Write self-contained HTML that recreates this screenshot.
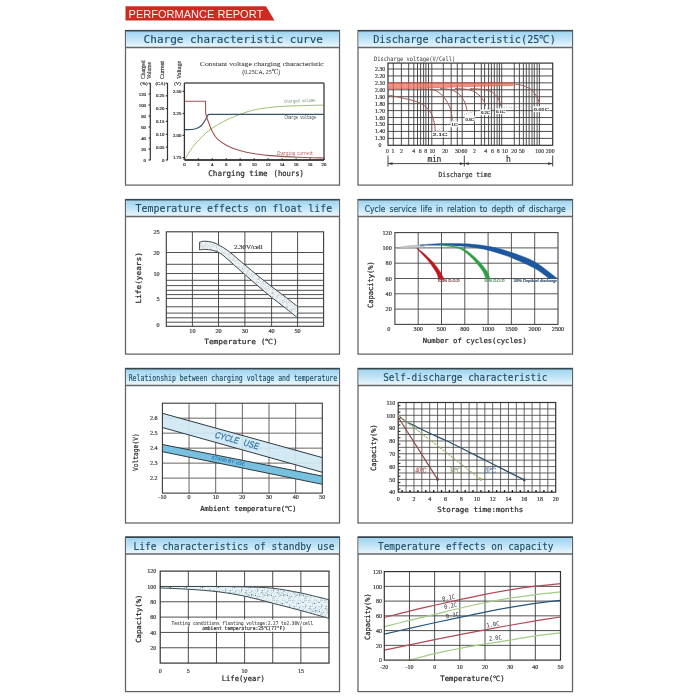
<!DOCTYPE html><html><head><meta charset="utf-8"><title>Performance Report</title>
<style>html,body{margin:0;padding:0;background:#fff;width:700px;height:700px;overflow:hidden}svg{display:block}</style></head><body>
<svg width="700" height="700" viewBox="0 0 700 700">
<defs>
<linearGradient id="hdr" x1="0" y1="0" x2="0" y2="1"><stop offset="0" stop-color="#9fd3ef"/><stop offset="0.55" stop-color="#c6e6f7"/><stop offset="1" stop-color="#eef8fd"/></linearGradient>
<pattern id="dots" width="14" height="14" patternUnits="userSpaceOnUse"><rect width="14" height="14" fill="#edf2f4"/><circle cx="4.5" cy="2.1" r="0.46" fill="#aab8c0"/><circle cx="11.5" cy="1.3" r="0.45" fill="#c0cbd0"/><circle cx="0.5" cy="6.1" r="0.32" fill="#aab8c0"/><circle cx="7.7" cy="0.8" r="0.44" fill="#c0cbd0"/><circle cx="8.8" cy="8.2" r="0.32" fill="#b8c4ca"/><circle cx="0.7" cy="3.1" r="0.44" fill="#c0cbd0"/><circle cx="4.1" cy="2.0" r="0.33" fill="#98a8b2"/><circle cx="7.8" cy="9.5" r="0.33" fill="#c0cbd0"/><circle cx="5.2" cy="7.7" r="0.32" fill="#aab8c0"/><circle cx="8.7" cy="6.9" r="0.43" fill="#98a8b2"/><circle cx="6.5" cy="12.9" r="0.39" fill="#c0cbd0"/><circle cx="11.1" cy="9.8" r="0.36" fill="#98a8b2"/><circle cx="7.4" cy="12.3" r="0.48" fill="#98a8b2"/><circle cx="8.5" cy="1.0" r="0.43" fill="#c0cbd0"/><circle cx="10.6" cy="2.1" r="0.42" fill="#aab8c0"/><circle cx="13.5" cy="1.1" r="0.44" fill="#98a8b2"/><circle cx="4.8" cy="4.9" r="0.42" fill="#b8c4ca"/><circle cx="1.0" cy="1.3" r="0.37" fill="#aab8c0"/><circle cx="0.8" cy="9.8" r="0.46" fill="#b8c4ca"/><circle cx="4.0" cy="5.4" r="0.47" fill="#aab8c0"/><circle cx="13.2" cy="5.0" r="0.45" fill="#b8c4ca"/><circle cx="0.8" cy="10.8" r="0.33" fill="#c0cbd0"/><circle cx="5.6" cy="12.8" r="0.42" fill="#c0cbd0"/><circle cx="6.3" cy="7.7" r="0.52" fill="#b8c4ca"/><circle cx="12.1" cy="3.9" r="0.40" fill="#98a8b2"/><circle cx="9.6" cy="5.3" r="0.36" fill="#aab8c0"/><circle cx="2.5" cy="3.2" r="0.36" fill="#b8c4ca"/><circle cx="11.6" cy="2.6" r="0.37" fill="#c0cbd0"/><circle cx="5.9" cy="5.2" r="0.44" fill="#c0cbd0"/><circle cx="9.7" cy="7.2" r="0.45" fill="#aab8c0"/><circle cx="6.4" cy="12.2" r="0.54" fill="#b8c4ca"/><circle cx="5.6" cy="5.5" r="0.42" fill="#b8c4ca"/><circle cx="0.9" cy="0.9" r="0.35" fill="#c0cbd0"/><circle cx="1.5" cy="8.4" r="0.33" fill="#c0cbd0"/><circle cx="7.5" cy="13.3" r="0.45" fill="#aab8c0"/><circle cx="12.2" cy="8.6" r="0.34" fill="#98a8b2"/><circle cx="13.4" cy="8.4" r="0.42" fill="#aab8c0"/><circle cx="11.9" cy="13.9" r="0.42" fill="#b8c4ca"/><circle cx="4.4" cy="2.0" r="0.49" fill="#98a8b2"/><circle cx="6.7" cy="9.7" r="0.43" fill="#c0cbd0"/><circle cx="13.3" cy="7.4" r="0.34" fill="#aab8c0"/><circle cx="10.6" cy="4.2" r="0.46" fill="#aab8c0"/><circle cx="9.7" cy="3.7" r="0.39" fill="#c0cbd0"/><circle cx="5.0" cy="3.1" r="0.44" fill="#98a8b2"/><circle cx="8.9" cy="8.6" r="0.50" fill="#c0cbd0"/><circle cx="11.3" cy="11.5" r="0.48" fill="#c0cbd0"/><circle cx="2.8" cy="6.9" r="0.48" fill="#aab8c0"/><circle cx="11.1" cy="6.6" r="0.35" fill="#98a8b2"/><circle cx="6.3" cy="13.1" r="0.55" fill="#98a8b2"/><circle cx="1.1" cy="1.4" r="0.42" fill="#98a8b2"/><circle cx="2.9" cy="8.7" r="0.53" fill="#aab8c0"/><circle cx="6.7" cy="9.1" r="0.50" fill="#aab8c0"/><circle cx="11.7" cy="1.7" r="0.40" fill="#c0cbd0"/><circle cx="6.7" cy="2.5" r="0.50" fill="#98a8b2"/><circle cx="1.2" cy="13.2" r="0.48" fill="#b8c4ca"/><circle cx="5.6" cy="13.3" r="0.48" fill="#c0cbd0"/><circle cx="13.9" cy="0.4" r="0.45" fill="#b8c4ca"/><circle cx="11.3" cy="2.0" r="0.51" fill="#b8c4ca"/><circle cx="9.2" cy="4.9" r="0.44" fill="#c0cbd0"/><circle cx="0.3" cy="11.2" r="0.48" fill="#aab8c0"/><circle cx="7.4" cy="13.1" r="0.41" fill="#c0cbd0"/><circle cx="11.6" cy="3.0" r="0.36" fill="#98a8b2"/><circle cx="7.0" cy="10.7" r="0.38" fill="#b8c4ca"/><circle cx="11.7" cy="0.9" r="0.48" fill="#b8c4ca"/><circle cx="9.3" cy="11.4" r="0.43" fill="#c0cbd0"/><circle cx="7.4" cy="7.3" r="0.30" fill="#b8c4ca"/><circle cx="10.9" cy="8.5" r="0.49" fill="#c0cbd0"/><circle cx="2.4" cy="6.6" r="0.48" fill="#aab8c0"/><circle cx="4.6" cy="7.3" r="0.44" fill="#aab8c0"/><circle cx="12.4" cy="0.8" r="0.35" fill="#aab8c0"/></pattern>
<pattern id="dots2" width="16" height="16" patternUnits="userSpaceOnUse"><rect width="16" height="16" fill="#eaf4f8"/><circle cx="12.4" cy="8.1" r="0.47" fill="#4c7b8c"/><circle cx="7.1" cy="9.8" r="0.45" fill="#a8c0cc"/><circle cx="3.2" cy="4.4" r="0.45" fill="#3a6575"/><circle cx="8.1" cy="4.0" r="0.46" fill="#b0c8d4"/><circle cx="14.8" cy="14.3" r="0.36" fill="#3a6575"/><circle cx="2.2" cy="1.9" r="0.43" fill="#4c7b8c"/><circle cx="10.7" cy="6.9" r="0.36" fill="#b0c8d4"/><circle cx="12.5" cy="14.4" r="0.35" fill="#c0d4de"/><circle cx="10.3" cy="5.9" r="0.38" fill="#8fb0c0"/><circle cx="15.5" cy="3.5" r="0.59" fill="#3a6575"/><circle cx="14.2" cy="2.6" r="0.50" fill="#8fb0c0"/><circle cx="2.6" cy="6.9" r="0.45" fill="#b0c8d4"/><circle cx="6.7" cy="5.7" r="0.33" fill="#b0c8d4"/><circle cx="0.3" cy="8.9" r="0.43" fill="#4c7b8c"/><circle cx="6.1" cy="8.3" r="0.39" fill="#4c7b8c"/><circle cx="1.8" cy="14.7" r="0.37" fill="#4c7b8c"/><circle cx="1.3" cy="4.4" r="0.57" fill="#8fb0c0"/><circle cx="4.3" cy="2.1" r="0.43" fill="#c0d4de"/><circle cx="13.1" cy="4.1" r="0.34" fill="#a8c0cc"/><circle cx="9.1" cy="11.2" r="0.33" fill="#4c7b8c"/><circle cx="12.8" cy="2.9" r="0.57" fill="#b0c8d4"/><circle cx="15.0" cy="10.2" r="0.54" fill="#4c7b8c"/><circle cx="9.7" cy="3.6" r="0.38" fill="#4c7b8c"/><circle cx="7.3" cy="5.4" r="0.47" fill="#b0c8d4"/><circle cx="9.9" cy="0.7" r="0.51" fill="#4c7b8c"/><circle cx="15.5" cy="4.2" r="0.35" fill="#b0c8d4"/><circle cx="10.1" cy="8.5" r="0.36" fill="#3a6575"/><circle cx="8.0" cy="2.8" r="0.40" fill="#4c7b8c"/><circle cx="15.9" cy="0.6" r="0.31" fill="#a8c0cc"/><circle cx="8.8" cy="3.0" r="0.44" fill="#3a6575"/><circle cx="1.7" cy="13.1" r="0.43" fill="#3a6575"/><circle cx="8.7" cy="14.2" r="0.59" fill="#b0c8d4"/><circle cx="11.0" cy="15.7" r="0.40" fill="#c0d4de"/><circle cx="11.7" cy="2.2" r="0.60" fill="#4c7b8c"/><circle cx="13.4" cy="0.2" r="0.49" fill="#b0c8d4"/><circle cx="6.9" cy="0.9" r="0.50" fill="#3a6575"/><circle cx="13.9" cy="10.7" r="0.38" fill="#8fb0c0"/><circle cx="11.1" cy="0.7" r="0.36" fill="#b0c8d4"/><circle cx="7.1" cy="4.2" r="0.59" fill="#a8c0cc"/><circle cx="5.2" cy="0.6" r="0.56" fill="#8fb0c0"/><circle cx="5.7" cy="0.0" r="0.41" fill="#3a6575"/><circle cx="4.5" cy="10.5" r="0.37" fill="#4c7b8c"/><circle cx="1.5" cy="13.1" r="0.34" fill="#a8c0cc"/><circle cx="0.7" cy="0.4" r="0.39" fill="#8fb0c0"/><circle cx="1.4" cy="15.3" r="0.56" fill="#8fb0c0"/><circle cx="10.5" cy="11.5" r="0.56" fill="#3a6575"/><circle cx="12.2" cy="11.5" r="0.45" fill="#b0c8d4"/><circle cx="11.6" cy="10.3" r="0.31" fill="#c0d4de"/><circle cx="14.3" cy="10.0" r="0.52" fill="#a8c0cc"/><circle cx="2.2" cy="8.4" r="0.45" fill="#4c7b8c"/><circle cx="13.2" cy="9.3" r="0.57" fill="#c0d4de"/><circle cx="15.3" cy="10.3" r="0.33" fill="#4c7b8c"/><circle cx="2.1" cy="5.8" r="0.33" fill="#3a6575"/><circle cx="8.9" cy="10.0" r="0.49" fill="#c0d4de"/><circle cx="3.9" cy="4.2" r="0.44" fill="#4c7b8c"/><circle cx="12.0" cy="8.0" r="0.46" fill="#c0d4de"/><circle cx="8.4" cy="11.9" r="0.44" fill="#4c7b8c"/><circle cx="13.5" cy="3.8" r="0.53" fill="#8fb0c0"/><circle cx="11.8" cy="15.6" r="0.45" fill="#3a6575"/><circle cx="1.2" cy="14.6" r="0.39" fill="#4c7b8c"/><circle cx="9.9" cy="10.3" r="0.32" fill="#8fb0c0"/><circle cx="5.3" cy="10.4" r="0.51" fill="#a8c0cc"/><circle cx="9.1" cy="0.2" r="0.32" fill="#b0c8d4"/><circle cx="15.6" cy="1.6" r="0.37" fill="#3a6575"/><circle cx="4.7" cy="8.3" r="0.44" fill="#3a6575"/><circle cx="12.3" cy="15.9" r="0.46" fill="#b0c8d4"/><circle cx="15.7" cy="15.0" r="0.31" fill="#3a6575"/><circle cx="1.2" cy="8.1" r="0.60" fill="#b0c8d4"/><circle cx="6.2" cy="14.7" r="0.58" fill="#4c7b8c"/><circle cx="9.3" cy="2.3" r="0.46" fill="#b0c8d4"/><circle cx="2.1" cy="13.1" r="0.45" fill="#4c7b8c"/><circle cx="11.3" cy="3.7" r="0.57" fill="#3a6575"/><circle cx="6.3" cy="2.5" r="0.58" fill="#c0d4de"/><circle cx="7.2" cy="4.8" r="0.34" fill="#b0c8d4"/><circle cx="6.0" cy="1.9" r="0.40" fill="#b0c8d4"/><circle cx="12.0" cy="13.4" r="0.34" fill="#8fb0c0"/><circle cx="11.4" cy="14.4" r="0.39" fill="#b0c8d4"/><circle cx="1.0" cy="6.2" r="0.56" fill="#4c7b8c"/><circle cx="5.8" cy="6.8" r="0.38" fill="#4c7b8c"/><circle cx="4.5" cy="0.8" r="0.50" fill="#c0d4de"/></pattern>
</defs>
<rect width="700" height="700" fill="#fff"/>
<polygon points="125.5,6.3 266,6.3 274.5,20.5 125.5,20.5" fill="#cd2a21"/>
<text x="128.60" y="17.60" font-size="10" fill="#fff2ee" font-family="'Liberation Sans','DejaVu Sans',sans-serif" textLength="134.60" lengthAdjust="spacingAndGlyphs" >PERFORMANCE REPORT</text>
<rect x="125.50" y="30.50" width="214.00" height="154.60" fill="#fff" stroke="#5f6366" stroke-width="1.25" />
<rect x="126.15" y="31.15" width="212.70" height="16.35" fill="url(#hdr)" stroke="none" stroke-width="1" />
<line x1="125.50" y1="30.80" x2="339.50" y2="30.80" stroke="#34474f" stroke-width="1.4" />
<line x1="125.50" y1="47.50" x2="339.50" y2="47.50" stroke="#646668" stroke-width="1.5" />
<text x="143.60" y="43.10" font-size="10.9" fill="#1b4d68" font-family="'DejaVu Sans Mono','Liberation Mono',monospace" textLength="179.40" lengthAdjust="spacingAndGlyphs" stroke="#1b4d68" stroke-width="0.15">Charge characteristic curve</text>
<rect x="358.00" y="30.50" width="214.50" height="154.60" fill="#fff" stroke="#5f6366" stroke-width="1.25" />
<rect x="358.65" y="31.15" width="213.20" height="16.35" fill="url(#hdr)" stroke="none" stroke-width="1" />
<line x1="358.00" y1="30.80" x2="572.50" y2="30.80" stroke="#34474f" stroke-width="1.4" />
<line x1="358.00" y1="47.50" x2="572.50" y2="47.50" stroke="#646668" stroke-width="1.5" />
<text x="373.20" y="43.10" font-size="10.9" fill="#1b4d68" font-family="'DejaVu Sans Mono','Liberation Mono',monospace" textLength="182.80" lengthAdjust="spacingAndGlyphs" stroke="#1b4d68" stroke-width="0.15">Discharge characteristic(25℃)</text>
<rect x="125.50" y="199.50" width="214.00" height="154.60" fill="#fff" stroke="#5f6366" stroke-width="1.25" />
<rect x="126.15" y="200.15" width="212.70" height="16.35" fill="url(#hdr)" stroke="none" stroke-width="1" />
<line x1="125.50" y1="199.80" x2="339.50" y2="199.80" stroke="#34474f" stroke-width="1.4" />
<line x1="125.50" y1="216.50" x2="339.50" y2="216.50" stroke="#646668" stroke-width="1.5" />
<text x="135.60" y="212.10" font-size="10.9" fill="#1b4d68" font-family="'DejaVu Sans Mono','Liberation Mono',monospace" textLength="196.60" lengthAdjust="spacingAndGlyphs" stroke="#1b4d68" stroke-width="0.15">Temperature effects on float life</text>
<rect x="358.00" y="199.50" width="214.50" height="154.60" fill="#fff" stroke="#5f6366" stroke-width="1.25" />
<rect x="358.65" y="200.15" width="213.20" height="16.35" fill="url(#hdr)" stroke="none" stroke-width="1" />
<line x1="358.00" y1="199.80" x2="572.50" y2="199.80" stroke="#34474f" stroke-width="1.4" />
<line x1="358.00" y1="216.50" x2="572.50" y2="216.50" stroke="#646668" stroke-width="1.5" />
<text x="364.80" y="212.10" font-size="9.4" fill="#1b4d68" font-family="'DejaVu Sans Condensed','DejaVu Sans',sans-serif" textLength="200.80" lengthAdjust="spacingAndGlyphs" stroke="#1b4d68" stroke-width="0.15" word-spacing="1.8">Cycle service life in relation to depth of discharge</text>
<rect x="125.50" y="368.40" width="214.00" height="154.60" fill="#fff" stroke="#5f6366" stroke-width="1.25" />
<rect x="126.15" y="369.05" width="212.70" height="16.35" fill="url(#hdr)" stroke="none" stroke-width="1" />
<line x1="125.50" y1="368.70" x2="339.50" y2="368.70" stroke="#34474f" stroke-width="1.4" />
<line x1="125.50" y1="385.40" x2="339.50" y2="385.40" stroke="#646668" stroke-width="1.5" />
<text x="128.70" y="381.00" font-size="8.8" fill="#1b4d68" font-family="'DejaVu Sans Mono','Liberation Mono',monospace" textLength="208.50" lengthAdjust="spacingAndGlyphs" stroke="#1b4d68" stroke-width="0.15">Relationship between charging voltage and temperature</text>
<rect x="358.00" y="368.40" width="214.50" height="154.60" fill="#fff" stroke="#5f6366" stroke-width="1.25" />
<rect x="358.65" y="369.05" width="213.20" height="16.35" fill="url(#hdr)" stroke="none" stroke-width="1" />
<line x1="358.00" y1="368.70" x2="572.50" y2="368.70" stroke="#34474f" stroke-width="1.4" />
<line x1="358.00" y1="385.40" x2="572.50" y2="385.40" stroke="#646668" stroke-width="1.5" />
<text x="383.20" y="381.00" font-size="10.9" fill="#1b4d68" font-family="'DejaVu Sans Mono','Liberation Mono',monospace" textLength="164.30" lengthAdjust="spacingAndGlyphs" stroke="#1b4d68" stroke-width="0.15">Self-discharge characteristic</text>
<rect x="125.50" y="537.00" width="214.00" height="154.60" fill="#fff" stroke="#5f6366" stroke-width="1.25" />
<rect x="126.15" y="537.65" width="212.70" height="16.35" fill="url(#hdr)" stroke="none" stroke-width="1" />
<line x1="125.50" y1="537.30" x2="339.50" y2="537.30" stroke="#34474f" stroke-width="1.4" />
<line x1="125.50" y1="554.00" x2="339.50" y2="554.00" stroke="#646668" stroke-width="1.5" />
<text x="133.60" y="549.60" font-size="10.9" fill="#1b4d68" font-family="'DejaVu Sans Mono','Liberation Mono',monospace" textLength="201.00" lengthAdjust="spacingAndGlyphs" stroke="#1b4d68" stroke-width="0.15">Life characteristics of standby use</text>
<rect x="358.00" y="537.00" width="214.50" height="154.60" fill="#fff" stroke="#5f6366" stroke-width="1.25" />
<rect x="358.65" y="537.65" width="213.20" height="16.35" fill="url(#hdr)" stroke="none" stroke-width="1" />
<line x1="358.00" y1="537.30" x2="572.50" y2="537.30" stroke="#34474f" stroke-width="1.4" />
<line x1="358.00" y1="554.00" x2="572.50" y2="554.00" stroke="#646668" stroke-width="1.5" />
<text x="378.00" y="549.60" font-size="10.9" fill="#1b4d68" font-family="'DejaVu Sans Mono','Liberation Mono',monospace" textLength="175.50" lengthAdjust="spacingAndGlyphs" stroke="#1b4d68" stroke-width="0.15">Temperature effects on capacity</text>
<text x="199.80" y="65.60" font-size="7.0" fill="#3a3a3a" font-family="'Liberation Serif','DejaVu Serif',serif" textLength="124.00" lengthAdjust="spacingAndGlyphs" stroke="#3a3a3a" stroke-width="0.05">Constant voltage charging characteristic</text>
<text x="242.30" y="74.00" font-size="7.0" fill="#3a3a3a" font-family="'Liberation Serif','DejaVu Serif',serif" textLength="38.00" lengthAdjust="spacingAndGlyphs" stroke="#3a3a3a" stroke-width="0.05">(0.25CA, 25℃)</text>
<line x1="150.30" y1="83.00" x2="150.30" y2="160.20" stroke="#333" stroke-width="1.2" />
<line x1="167.50" y1="83.00" x2="167.50" y2="160.20" stroke="#333" stroke-width="1.2" />
<line x1="148.60" y1="160.00" x2="150.30" y2="160.00" stroke="#333" stroke-width="1.2" />
<text x="146.00" y="161.70" font-size="4.8" fill="#333" font-family="'Liberation Serif','DejaVu Serif',serif" text-anchor="end"  stroke="#333" stroke-width="0.2">0</text>
<line x1="148.60" y1="149.00" x2="150.30" y2="149.00" stroke="#333" stroke-width="1.2" />
<text x="146.00" y="150.70" font-size="4.8" fill="#333" font-family="'Liberation Serif','DejaVu Serif',serif" text-anchor="end"  stroke="#333" stroke-width="0.2">20</text>
<line x1="148.60" y1="138.00" x2="150.30" y2="138.00" stroke="#333" stroke-width="1.2" />
<text x="146.00" y="139.70" font-size="4.8" fill="#333" font-family="'Liberation Serif','DejaVu Serif',serif" text-anchor="end"  stroke="#333" stroke-width="0.2">40</text>
<line x1="148.60" y1="127.00" x2="150.30" y2="127.00" stroke="#333" stroke-width="1.2" />
<text x="146.00" y="128.70" font-size="4.8" fill="#333" font-family="'Liberation Serif','DejaVu Serif',serif" text-anchor="end"  stroke="#333" stroke-width="0.2">60</text>
<line x1="148.60" y1="116.00" x2="150.30" y2="116.00" stroke="#333" stroke-width="1.2" />
<text x="146.00" y="117.70" font-size="4.8" fill="#333" font-family="'Liberation Serif','DejaVu Serif',serif" text-anchor="end"  stroke="#333" stroke-width="0.2">80</text>
<line x1="148.60" y1="105.00" x2="150.30" y2="105.00" stroke="#333" stroke-width="1.2" />
<text x="146.00" y="106.70" font-size="4.8" fill="#333" font-family="'Liberation Serif','DejaVu Serif',serif" text-anchor="end"  stroke="#333" stroke-width="0.2">100</text>
<line x1="148.60" y1="94.00" x2="150.30" y2="94.00" stroke="#333" stroke-width="1.2" />
<text x="146.00" y="95.70" font-size="4.8" fill="#333" font-family="'Liberation Serif','DejaVu Serif',serif" text-anchor="end"  stroke="#333" stroke-width="0.2">120</text>
<text x="147.50" y="84.80" font-size="4.8" fill="#333" font-family="'Liberation Serif','DejaVu Serif',serif" text-anchor="end"  stroke="#333" stroke-width="0.2">(%)</text>
<line x1="148.60" y1="83.20" x2="150.30" y2="83.20" stroke="#333" stroke-width="1.2" />
<line x1="165.80" y1="160.00" x2="167.50" y2="160.00" stroke="#333" stroke-width="1.2" />
<text x="164.30" y="161.70" font-size="4.8" fill="#333" font-family="'Liberation Serif','DejaVu Serif',serif" text-anchor="end"  stroke="#333" stroke-width="0.2">0</text>
<line x1="165.80" y1="147.15" x2="167.50" y2="147.15" stroke="#333" stroke-width="1.2" />
<text x="164.30" y="148.85" font-size="4.8" fill="#333" font-family="'Liberation Serif','DejaVu Serif',serif" text-anchor="end"  stroke="#333" stroke-width="0.2">0.05</text>
<line x1="165.80" y1="134.30" x2="167.50" y2="134.30" stroke="#333" stroke-width="1.2" />
<text x="164.30" y="136.00" font-size="4.8" fill="#333" font-family="'Liberation Serif','DejaVu Serif',serif" text-anchor="end"  stroke="#333" stroke-width="0.2">0.10</text>
<line x1="165.80" y1="121.45" x2="167.50" y2="121.45" stroke="#333" stroke-width="1.2" />
<text x="164.30" y="123.15" font-size="4.8" fill="#333" font-family="'Liberation Serif','DejaVu Serif',serif" text-anchor="end"  stroke="#333" stroke-width="0.2">0.15</text>
<line x1="165.80" y1="108.60" x2="167.50" y2="108.60" stroke="#333" stroke-width="1.2" />
<text x="164.30" y="110.30" font-size="4.8" fill="#333" font-family="'Liberation Serif','DejaVu Serif',serif" text-anchor="end"  stroke="#333" stroke-width="0.2">0.20</text>
<line x1="165.80" y1="95.75" x2="167.50" y2="95.75" stroke="#333" stroke-width="1.2" />
<text x="164.30" y="97.45" font-size="4.8" fill="#333" font-family="'Liberation Serif','DejaVu Serif',serif" text-anchor="end"  stroke="#333" stroke-width="0.2">0.25</text>
<text x="165.30" y="84.80" font-size="4.8" fill="#333" font-family="'Liberation Serif','DejaVu Serif',serif" text-anchor="end"  stroke="#333" stroke-width="0.2">(CA)</text>
<line x1="165.80" y1="83.20" x2="167.50" y2="83.20" stroke="#333" stroke-width="1.2" />
<line x1="182.60" y1="91.30" x2="184.40" y2="91.30" stroke="#333" stroke-width="1.2" />
<text x="181.30" y="93.00" font-size="4.8" fill="#333" font-family="'Liberation Serif','DejaVu Serif',serif" text-anchor="end"  stroke="#333" stroke-width="0.2">2.50</text>
<line x1="182.60" y1="113.50" x2="184.40" y2="113.50" stroke="#333" stroke-width="1.2" />
<text x="181.30" y="115.20" font-size="4.8" fill="#333" font-family="'Liberation Serif','DejaVu Serif',serif" text-anchor="end"  stroke="#333" stroke-width="0.2">2.25</text>
<line x1="182.60" y1="135.40" x2="184.40" y2="135.40" stroke="#333" stroke-width="1.2" />
<text x="181.30" y="137.10" font-size="4.8" fill="#333" font-family="'Liberation Serif','DejaVu Serif',serif" text-anchor="end"  stroke="#333" stroke-width="0.2">2.00</text>
<line x1="182.60" y1="157.60" x2="184.40" y2="157.60" stroke="#333" stroke-width="1.2" />
<text x="181.30" y="159.30" font-size="4.8" fill="#333" font-family="'Liberation Serif','DejaVu Serif',serif" text-anchor="end"  stroke="#333" stroke-width="0.2">1.75</text>
<text x="180.80" y="84.80" font-size="4.8" fill="#333" font-family="'Liberation Serif','DejaVu Serif',serif" text-anchor="end"  stroke="#333" stroke-width="0.2">(V)</text>
<text x="144.60" y="79.00" font-size="5.6" fill="#444" font-family="'Liberation Serif','DejaVu Serif',serif" textLength="18.50" lengthAdjust="spacingAndGlyphs" transform="rotate(-90 144.60 79.00)"  stroke="#444" stroke-width="0.2">Charged</text>
<text x="150.60" y="79.00" font-size="5.6" fill="#444" font-family="'Liberation Serif','DejaVu Serif',serif" textLength="17.00" lengthAdjust="spacingAndGlyphs" transform="rotate(-90 150.60 79.00)"  stroke="#444" stroke-width="0.2">Volume</text>
<text x="164.20" y="79.00" font-size="5.6" fill="#444" font-family="'Liberation Serif','DejaVu Serif',serif" textLength="18.00" lengthAdjust="spacingAndGlyphs" transform="rotate(-90 164.20 79.00)"  stroke="#444" stroke-width="0.2">Current</text>
<text x="180.80" y="79.00" font-size="5.6" fill="#444" font-family="'Liberation Serif','DejaVu Serif',serif" textLength="18.00" lengthAdjust="spacingAndGlyphs" transform="rotate(-90 180.80 79.00)"  stroke="#444" stroke-width="0.2">Voltage</text>
<path d="M184.40,160.00 C185.73,157.93 189.82,151.12 192.40,147.60 C194.98,144.08 196.80,142.00 199.90,138.90 C203.00,135.80 207.07,131.90 211.00,129.00 C214.93,126.10 219.35,123.68 223.50,121.50 C227.65,119.32 231.77,117.57 235.90,115.90 C240.03,114.23 244.37,112.67 248.30,111.50 C252.23,110.33 255.05,109.67 259.50,108.90 C263.95,108.13 269.08,107.42 275.00,106.90 C280.92,106.38 286.83,106.10 295.00,105.80 C303.17,105.50 319.17,105.22 324.00,105.10" fill="none" stroke="#9ebf6e" stroke-width="1.0" />
<path d="M184.40,129.60 C185.67,129.58 189.90,129.72 192.00,129.50 C194.10,129.28 195.42,128.97 197.00,128.30 C198.58,127.63 200.17,126.80 201.50,125.50 C202.83,124.20 204.00,122.15 205.00,120.50 C206.00,118.85 206.83,116.63 207.50,115.60 C208.17,114.57 208.75,114.52 209.00,114.30 L324,114.3" fill="none" stroke="#34566a" stroke-width="1.2" />
<path d="M184.4,101.2 L205.5,101.2 L205.6,113 C205.88,114.00 206.18,115.93 207.30,119.00 C208.42,122.07 210.63,128.08 212.30,131.40 C213.97,134.72 214.82,136.52 217.30,138.90 C219.78,141.28 223.48,143.77 227.20,145.70 C230.92,147.63 235.05,149.15 239.60,150.50 C244.15,151.85 249.43,152.95 254.50,153.80 C259.57,154.65 262.42,155.03 270.00,155.60 C277.58,156.17 291.00,156.80 300.00,157.20 C309.00,157.60 320.00,157.87 324.00,158.00" fill="none" stroke="#a05252" stroke-width="1.1" />
<line x1="184.40" y1="83.00" x2="324.00" y2="83.00" stroke="#555" stroke-width="1.6" />
<line x1="324.00" y1="83.00" x2="324.00" y2="160.00" stroke="#555" stroke-width="1.5" />
<line x1="184.40" y1="83.00" x2="184.40" y2="160.00" stroke="#333" stroke-width="1.3" />
<line x1="184.40" y1="160.00" x2="324.00" y2="160.00" stroke="#444" stroke-width="1.8" />
<line x1="184.40" y1="158.20" x2="184.40" y2="160.00" stroke="#333" stroke-width="1.2" />
<text x="184.40" y="165.80" font-size="4.8" fill="#333" font-family="'Liberation Serif','DejaVu Serif',serif" text-anchor="middle"  stroke="#333" stroke-width="0.2">0</text>
<line x1="198.36" y1="158.20" x2="198.36" y2="160.00" stroke="#333" stroke-width="1.2" />
<text x="198.36" y="165.80" font-size="4.8" fill="#333" font-family="'Liberation Serif','DejaVu Serif',serif" text-anchor="middle"  stroke="#333" stroke-width="0.2">2</text>
<line x1="212.32" y1="158.20" x2="212.32" y2="160.00" stroke="#333" stroke-width="1.2" />
<text x="212.32" y="165.80" font-size="4.8" fill="#333" font-family="'Liberation Serif','DejaVu Serif',serif" text-anchor="middle"  stroke="#333" stroke-width="0.2">4</text>
<line x1="226.28" y1="158.20" x2="226.28" y2="160.00" stroke="#333" stroke-width="1.2" />
<text x="226.28" y="165.80" font-size="4.8" fill="#333" font-family="'Liberation Serif','DejaVu Serif',serif" text-anchor="middle"  stroke="#333" stroke-width="0.2">6</text>
<line x1="240.24" y1="158.20" x2="240.24" y2="160.00" stroke="#333" stroke-width="1.2" />
<text x="240.24" y="165.80" font-size="4.8" fill="#333" font-family="'Liberation Serif','DejaVu Serif',serif" text-anchor="middle"  stroke="#333" stroke-width="0.2">8</text>
<line x1="254.20" y1="158.20" x2="254.20" y2="160.00" stroke="#333" stroke-width="1.2" />
<text x="254.20" y="165.80" font-size="4.8" fill="#333" font-family="'Liberation Serif','DejaVu Serif',serif" text-anchor="middle"  stroke="#333" stroke-width="0.2">10</text>
<line x1="268.16" y1="158.20" x2="268.16" y2="160.00" stroke="#333" stroke-width="1.2" />
<text x="268.16" y="165.80" font-size="4.8" fill="#333" font-family="'Liberation Serif','DejaVu Serif',serif" text-anchor="middle"  stroke="#333" stroke-width="0.2">12</text>
<line x1="282.12" y1="158.20" x2="282.12" y2="160.00" stroke="#333" stroke-width="1.2" />
<text x="282.12" y="165.80" font-size="4.8" fill="#333" font-family="'Liberation Serif','DejaVu Serif',serif" text-anchor="middle"  stroke="#333" stroke-width="0.2">14</text>
<line x1="296.08" y1="158.20" x2="296.08" y2="160.00" stroke="#333" stroke-width="1.2" />
<text x="296.08" y="165.80" font-size="4.8" fill="#333" font-family="'Liberation Serif','DejaVu Serif',serif" text-anchor="middle"  stroke="#333" stroke-width="0.2">16</text>
<line x1="310.04" y1="158.20" x2="310.04" y2="160.00" stroke="#333" stroke-width="1.2" />
<text x="310.04" y="165.80" font-size="4.8" fill="#333" font-family="'Liberation Serif','DejaVu Serif',serif" text-anchor="middle"  stroke="#333" stroke-width="0.2">18</text>
<line x1="324.00" y1="158.20" x2="324.00" y2="160.00" stroke="#333" stroke-width="1.2" />
<text x="324.00" y="165.80" font-size="4.8" fill="#333" font-family="'Liberation Serif','DejaVu Serif',serif" text-anchor="middle"  stroke="#333" stroke-width="0.2">20</text>
<text x="284.00" y="102.80" font-size="4.6" fill="#5f8a65" font-family="'Liberation Mono',monospace" textLength="31.50" lengthAdjust="spacingAndGlyphs" transform="rotate(-2 284.00 102.80)" >Charged volume</text>
<text x="284.60" y="119.40" font-size="4.6" fill="#2a3a48" font-family="'Liberation Mono',monospace" textLength="31.50" lengthAdjust="spacingAndGlyphs" >Charge voltage</text>
<text x="277.00" y="155.20" font-size="4.6" fill="#a04a4a" font-family="'Liberation Mono',monospace" textLength="36.00" lengthAdjust="spacingAndGlyphs" >Charging current</text>
<text x="208.30" y="175.51" font-size="7.8" fill="#2a2a2a" font-family="'DejaVu Sans Mono','Liberation Mono',monospace" textLength="59.28" lengthAdjust="spacingAndGlyphs" stroke="#2a2a2a" stroke-width="0.22">Charging time</text>
<text x="273.60" y="175.51" font-size="7.8" fill="#2a2a2a" font-family="'DejaVu Sans Mono','Liberation Mono',monospace" textLength="30.18" lengthAdjust="spacingAndGlyphs" stroke="#2a2a2a" stroke-width="0.22">(hours)</text>
<text x="373.90" y="61.00" font-size="6.2" fill="#333" font-family="'DejaVu Sans Mono','Liberation Mono',monospace" textLength="81.40" lengthAdjust="spacingAndGlyphs" >Discharge voltage(V/Cell)</text>
<line x1="393.30" y1="63.10" x2="393.30" y2="145.30" stroke="#3a3a3a" stroke-width="0.9" />
<line x1="401.40" y1="63.10" x2="401.40" y2="145.30" stroke="#3a3a3a" stroke-width="0.9" />
<line x1="408.70" y1="63.10" x2="408.70" y2="145.30" stroke="#3a3a3a" stroke-width="0.9" />
<line x1="413.80" y1="63.10" x2="413.80" y2="145.30" stroke="#3a3a3a" stroke-width="0.9" />
<line x1="417.50" y1="63.10" x2="417.50" y2="145.30" stroke="#3a3a3a" stroke-width="0.9" />
<line x1="420.60" y1="63.10" x2="420.60" y2="145.30" stroke="#3a3a3a" stroke-width="0.9" />
<line x1="423.60" y1="63.10" x2="423.60" y2="145.30" stroke="#3a3a3a" stroke-width="0.9" />
<line x1="425.90" y1="63.10" x2="425.90" y2="145.30" stroke="#3a3a3a" stroke-width="0.9" />
<line x1="428.50" y1="63.10" x2="428.50" y2="145.30" stroke="#3a3a3a" stroke-width="0.9" />
<line x1="431.80" y1="63.10" x2="431.80" y2="145.30" stroke="#3a3a3a" stroke-width="0.9" />
<line x1="443.30" y1="63.10" x2="443.30" y2="145.30" stroke="#3a3a3a" stroke-width="0.9" />
<line x1="451.20" y1="63.10" x2="451.20" y2="145.30" stroke="#3a3a3a" stroke-width="0.9" />
<line x1="457.30" y1="63.10" x2="457.30" y2="145.30" stroke="#3a3a3a" stroke-width="0.9" />
<line x1="462.20" y1="63.10" x2="462.20" y2="145.30" stroke="#3a3a3a" stroke-width="0.9" />
<line x1="474.50" y1="63.10" x2="474.50" y2="145.30" stroke="#3a3a3a" stroke-width="0.9" />
<line x1="481.30" y1="63.10" x2="481.30" y2="145.30" stroke="#3a3a3a" stroke-width="0.9" />
<line x1="484.60" y1="63.10" x2="484.60" y2="145.30" stroke="#3a3a3a" stroke-width="0.9" />
<line x1="488.60" y1="63.10" x2="488.60" y2="145.30" stroke="#3a3a3a" stroke-width="0.9" />
<line x1="491.40" y1="63.10" x2="491.40" y2="145.30" stroke="#3a3a3a" stroke-width="0.9" />
<line x1="494.30" y1="63.10" x2="494.30" y2="145.30" stroke="#3a3a3a" stroke-width="0.9" />
<line x1="497.10" y1="63.10" x2="497.10" y2="145.30" stroke="#3a3a3a" stroke-width="0.9" />
<line x1="499.40" y1="63.10" x2="499.40" y2="145.30" stroke="#3a3a3a" stroke-width="0.9" />
<line x1="501.70" y1="63.10" x2="501.70" y2="145.30" stroke="#3a3a3a" stroke-width="0.9" />
<line x1="514.30" y1="63.10" x2="514.30" y2="145.30" stroke="#3a3a3a" stroke-width="0.9" />
<line x1="519.40" y1="63.10" x2="519.40" y2="145.30" stroke="#3a3a3a" stroke-width="0.9" />
<line x1="523.40" y1="63.10" x2="523.40" y2="145.30" stroke="#3a3a3a" stroke-width="0.9" />
<line x1="526.30" y1="63.10" x2="526.30" y2="145.30" stroke="#3a3a3a" stroke-width="0.9" />
<line x1="529.10" y1="63.10" x2="529.10" y2="145.30" stroke="#3a3a3a" stroke-width="0.9" />
<line x1="532.00" y1="63.10" x2="532.00" y2="145.30" stroke="#3a3a3a" stroke-width="0.9" />
<line x1="534.30" y1="63.10" x2="534.30" y2="145.30" stroke="#3a3a3a" stroke-width="0.9" />
<line x1="537.10" y1="63.10" x2="537.10" y2="145.30" stroke="#3a3a3a" stroke-width="0.9" />
<line x1="539.40" y1="63.10" x2="539.40" y2="145.30" stroke="#3a3a3a" stroke-width="0.9" />
<line x1="388.00" y1="69.00" x2="552.70" y2="69.00" stroke="#3a3a3a" stroke-width="0.9" />
<text x="385.20" y="71.00" font-size="5.8" fill="#3a3a3a" font-family="'Liberation Serif','DejaVu Serif',serif" text-anchor="end"  stroke="#3a3a3a" stroke-width="0.2">2.30</text>
<line x1="388.00" y1="75.94" x2="552.70" y2="75.94" stroke="#3a3a3a" stroke-width="0.9" />
<text x="385.20" y="77.94" font-size="5.8" fill="#3a3a3a" font-family="'Liberation Serif','DejaVu Serif',serif" text-anchor="end"  stroke="#3a3a3a" stroke-width="0.2">2.20</text>
<line x1="388.00" y1="82.87" x2="552.70" y2="82.87" stroke="#3a3a3a" stroke-width="0.9" />
<text x="385.20" y="84.87" font-size="5.8" fill="#3a3a3a" font-family="'Liberation Serif','DejaVu Serif',serif" text-anchor="end"  stroke="#3a3a3a" stroke-width="0.2">2.10</text>
<line x1="388.00" y1="89.81" x2="552.70" y2="89.81" stroke="#3a3a3a" stroke-width="0.9" />
<text x="385.20" y="91.81" font-size="5.8" fill="#3a3a3a" font-family="'Liberation Serif','DejaVu Serif',serif" text-anchor="end"  stroke="#3a3a3a" stroke-width="0.2">2.00</text>
<line x1="388.00" y1="96.74" x2="552.70" y2="96.74" stroke="#3a3a3a" stroke-width="0.9" />
<text x="385.20" y="98.74" font-size="5.8" fill="#3a3a3a" font-family="'Liberation Serif','DejaVu Serif',serif" text-anchor="end"  stroke="#3a3a3a" stroke-width="0.2">1.90</text>
<line x1="388.00" y1="103.68" x2="552.70" y2="103.68" stroke="#3a3a3a" stroke-width="0.9" />
<text x="385.20" y="105.68" font-size="5.8" fill="#3a3a3a" font-family="'Liberation Serif','DejaVu Serif',serif" text-anchor="end"  stroke="#3a3a3a" stroke-width="0.2">1.80</text>
<line x1="388.00" y1="110.62" x2="552.70" y2="110.62" stroke="#3a3a3a" stroke-width="0.9" />
<text x="385.20" y="112.62" font-size="5.8" fill="#3a3a3a" font-family="'Liberation Serif','DejaVu Serif',serif" text-anchor="end"  stroke="#3a3a3a" stroke-width="0.2">1.70</text>
<line x1="388.00" y1="117.55" x2="552.70" y2="117.55" stroke="#3a3a3a" stroke-width="0.9" />
<text x="385.20" y="119.55" font-size="5.8" fill="#3a3a3a" font-family="'Liberation Serif','DejaVu Serif',serif" text-anchor="end"  stroke="#3a3a3a" stroke-width="0.2">1.60</text>
<line x1="388.00" y1="124.49" x2="552.70" y2="124.49" stroke="#3a3a3a" stroke-width="0.9" />
<text x="385.20" y="126.49" font-size="5.8" fill="#3a3a3a" font-family="'Liberation Serif','DejaVu Serif',serif" text-anchor="end"  stroke="#3a3a3a" stroke-width="0.2">1.50</text>
<line x1="388.00" y1="131.42" x2="552.70" y2="131.42" stroke="#3a3a3a" stroke-width="0.9" />
<text x="385.20" y="133.42" font-size="5.8" fill="#3a3a3a" font-family="'Liberation Serif','DejaVu Serif',serif" text-anchor="end"  stroke="#3a3a3a" stroke-width="0.2">1.40</text>
<line x1="388.00" y1="138.36" x2="552.70" y2="138.36" stroke="#3a3a3a" stroke-width="0.9" />
<text x="385.20" y="140.36" font-size="5.8" fill="#3a3a3a" font-family="'Liberation Serif','DejaVu Serif',serif" text-anchor="end"  stroke="#3a3a3a" stroke-width="0.2">1.30</text>
<text x="381.50" y="147.30" font-size="5.8" fill="#3a3a3a" font-family="'Liberation Serif','DejaVu Serif',serif" text-anchor="end"  stroke="#3a3a3a" stroke-width="0.2">0</text>
<rect x="388.00" y="63.10" width="164.70" height="82.20" fill="none" stroke="#333" stroke-width="1.2" />
<path d="M388.0,83.0 L513.5,83.0 L513.5,85.6 L490,86.0 L460,86.8 L430,87.9 L388.0,89.0 Z" fill="#e8705e" fill-opacity="0.75"/>
<line x1="388.00" y1="83.00" x2="513.50" y2="83.00" stroke="#d8483c" stroke-width="0.8" />
<path d="M388.0,89.0 L430,87.9 L460,86.8 L490,86.0 L513.5,85.6" fill="none" stroke="#dc5a4c" stroke-width="0.6" />
<path d="M388.50,95.00 C390.58,95.45 396.67,96.70 401.00,97.70 C405.33,98.70 411.00,99.95 414.50,101.00 C418.00,102.05 420.00,102.88 422.00,104.00 C424.00,105.12 425.00,106.20 426.50,107.70 C428.00,109.20 429.88,111.12 431.00,113.00 C432.12,114.88 432.58,117.00 433.20,119.00 C433.82,121.00 434.37,123.00 434.70,125.00 C435.03,127.00 435.12,130.00 435.20,131.00" fill="none" stroke="#a0564e" stroke-width="1.0" />
<path d="M420.00,89.20 C421.58,89.25 426.67,89.17 429.50,89.50 C432.33,89.83 434.50,89.78 437.00,91.20 C439.50,92.62 442.38,95.37 444.50,98.00 C446.62,100.63 448.50,104.25 449.70,107.00 C450.90,109.75 451.27,112.25 451.70,114.50 C452.13,116.75 452.20,119.50 452.30,120.50" fill="none" stroke="#a0564e" stroke-width="1.0" />
<path d="M440.00,88.60 C441.67,88.75 447.17,88.85 450.00,89.50 C452.83,90.15 455.00,91.17 457.00,92.50 C459.00,93.83 460.67,95.75 462.00,97.50 C463.33,99.25 464.25,101.25 465.00,103.00 C465.75,104.75 466.17,106.67 466.50,108.00 C466.83,109.33 466.92,110.50 467.00,111.00" fill="none" stroke="#a0564e" stroke-width="1.0" />
<path d="M455.00,88.60 C456.83,88.72 462.83,88.82 466.00,89.30 C469.17,89.78 471.67,90.38 474.00,91.50 C476.33,92.62 478.33,94.33 480.00,96.00 C481.67,97.67 483.07,99.83 484.00,101.50 C484.93,103.17 485.33,105.25 485.60,106.00" fill="none" stroke="#a0564e" stroke-width="1.0" />
<path d="M470.00,88.60 C472.00,88.72 478.50,88.82 482.00,89.30 C485.50,89.78 488.67,90.47 491.00,91.50 C493.33,92.53 494.58,93.92 496.00,95.50 C497.42,97.08 498.67,99.25 499.50,101.00 C500.33,102.75 500.75,105.17 501.00,106.00" fill="none" stroke="#a0564e" stroke-width="1.0" />
<path d="M514.00,84.00 C515.33,84.22 519.50,84.63 522.00,85.30 C524.50,85.97 527.00,86.80 529.00,88.00 C531.00,89.20 532.58,90.83 534.00,92.50 C535.42,94.17 536.58,96.17 537.50,98.00 C538.42,99.83 539.17,102.58 539.50,103.50" fill="none" stroke="#a0564e" stroke-width="1.0" />
<path d="M437,131 L452,121.5 L467,113.5 L485.5,109 L501,107.5 L539.5,106.5" fill="none" stroke="#9aa" stroke-width="0.7" stroke-dasharray="1.2,1.2"/>
<rect x="431.70" y="131.50" width="16.60" height="5.80" fill="#fff" stroke="none" stroke-width="1" fill-opacity="0.9"/>
<text x="432.50" y="136.30" font-size="5.0" fill="#333" font-family="'Liberation Serif','DejaVu Serif',serif" textLength="15.00" lengthAdjust="spacingAndGlyphs"  stroke="#333" stroke-width="0.2">2.1C</text>
<rect x="450.40" y="121.50" width="7.90" height="5.80" fill="#fff" stroke="none" stroke-width="1" fill-opacity="0.9"/>
<text x="451.20" y="126.30" font-size="5.0" fill="#333" font-family="'Liberation Serif','DejaVu Serif',serif" textLength="6.30" lengthAdjust="spacingAndGlyphs"  stroke="#333" stroke-width="0.2">1C</text>
<rect x="464.70" y="115.80" width="10.10" height="5.80" fill="#fff" stroke="none" stroke-width="1" fill-opacity="0.9"/>
<text x="465.50" y="120.60" font-size="5.0" fill="#333" font-family="'Liberation Serif','DejaVu Serif',serif" textLength="8.50" lengthAdjust="spacingAndGlyphs"  stroke="#333" stroke-width="0.2">0.5C</text>
<rect x="480.20" y="109.50" width="10.60" height="5.80" fill="#fff" stroke="none" stroke-width="1" fill-opacity="0.9"/>
<text x="481.00" y="114.30" font-size="5.0" fill="#333" font-family="'Liberation Serif','DejaVu Serif',serif" textLength="9.00" lengthAdjust="spacingAndGlyphs"  stroke="#333" stroke-width="0.2">0.2C</text>
<rect x="495.20" y="108.30" width="10.60" height="5.80" fill="#fff" stroke="none" stroke-width="1" fill-opacity="0.9"/>
<text x="496.00" y="113.10" font-size="5.0" fill="#333" font-family="'Liberation Serif','DejaVu Serif',serif" textLength="9.00" lengthAdjust="spacingAndGlyphs"  stroke="#333" stroke-width="0.2">0.1C</text>
<rect x="533.00" y="106.30" width="16.60" height="5.80" fill="#fff" stroke="none" stroke-width="1" fill-opacity="0.9"/>
<text x="533.80" y="111.10" font-size="5.0" fill="#333" font-family="'Liberation Serif','DejaVu Serif',serif" textLength="15.00" lengthAdjust="spacingAndGlyphs"  stroke="#333" stroke-width="0.2">0.01C</text>
<text x="387.40" y="153.20" font-size="5.8" fill="#444" font-family="'Liberation Serif','DejaVu Serif',serif" text-anchor="middle"  stroke="#444" stroke-width="0.2">0</text>
<text x="393.00" y="153.20" font-size="5.8" fill="#444" font-family="'Liberation Serif','DejaVu Serif',serif" text-anchor="middle"  stroke="#444" stroke-width="0.2">1</text>
<text x="401.40" y="153.20" font-size="5.8" fill="#444" font-family="'Liberation Serif','DejaVu Serif',serif" text-anchor="middle"  stroke="#444" stroke-width="0.2">2</text>
<text x="413.80" y="153.20" font-size="5.8" fill="#444" font-family="'Liberation Serif','DejaVu Serif',serif" text-anchor="middle"  stroke="#444" stroke-width="0.2">4</text>
<text x="420.30" y="153.20" font-size="5.8" fill="#444" font-family="'Liberation Serif','DejaVu Serif',serif" text-anchor="middle"  stroke="#444" stroke-width="0.2">6</text>
<text x="425.70" y="153.20" font-size="5.8" fill="#444" font-family="'Liberation Serif','DejaVu Serif',serif" text-anchor="middle"  stroke="#444" stroke-width="0.2">8</text>
<text x="432.30" y="153.20" font-size="5.8" fill="#444" font-family="'Liberation Serif','DejaVu Serif',serif" text-anchor="middle"  stroke="#444" stroke-width="0.2">10</text>
<text x="445.10" y="153.20" font-size="5.8" fill="#444" font-family="'Liberation Serif','DejaVu Serif',serif" text-anchor="middle"  stroke="#444" stroke-width="0.2">20</text>
<text x="457.90" y="153.20" font-size="5.8" fill="#444" font-family="'Liberation Serif','DejaVu Serif',serif" text-anchor="middle"  stroke="#444" stroke-width="0.2">30</text>
<text x="464.50" y="153.20" font-size="5.8" fill="#444" font-family="'Liberation Serif','DejaVu Serif',serif" text-anchor="middle"  stroke="#444" stroke-width="0.2">60</text>
<text x="474.50" y="153.20" font-size="5.8" fill="#444" font-family="'Liberation Serif','DejaVu Serif',serif" text-anchor="middle"  stroke="#444" stroke-width="0.2">2</text>
<text x="485.70" y="153.20" font-size="5.8" fill="#444" font-family="'Liberation Serif','DejaVu Serif',serif" text-anchor="middle"  stroke="#444" stroke-width="0.2">4</text>
<text x="492.50" y="153.20" font-size="5.8" fill="#444" font-family="'Liberation Serif','DejaVu Serif',serif" text-anchor="middle"  stroke="#444" stroke-width="0.2">6</text>
<text x="498.20" y="153.20" font-size="5.8" fill="#444" font-family="'Liberation Serif','DejaVu Serif',serif" text-anchor="middle"  stroke="#444" stroke-width="0.2">8</text>
<text x="505.00" y="153.20" font-size="5.8" fill="#444" font-family="'Liberation Serif','DejaVu Serif',serif" text-anchor="middle"  stroke="#444" stroke-width="0.2">10</text>
<text x="514.20" y="153.20" font-size="5.8" fill="#444" font-family="'Liberation Serif','DejaVu Serif',serif" text-anchor="middle"  stroke="#444" stroke-width="0.2">20</text>
<text x="521.80" y="153.20" font-size="5.8" fill="#444" font-family="'Liberation Serif','DejaVu Serif',serif" text-anchor="middle"  stroke="#444" stroke-width="0.2">50</text>
<text x="539.70" y="153.20" font-size="5.8" fill="#444" font-family="'Liberation Serif','DejaVu Serif',serif" text-anchor="middle"  stroke="#444" stroke-width="0.2">100</text>
<text x="550.20" y="153.20" font-size="5.8" fill="#444" font-family="'Liberation Serif','DejaVu Serif',serif" text-anchor="middle"  stroke="#444" stroke-width="0.2">200</text>
<line x1="388.00" y1="155.50" x2="388.00" y2="166.50" stroke="#333" stroke-width="0.9" />
<line x1="464.30" y1="155.50" x2="464.30" y2="166.50" stroke="#333" stroke-width="0.9" />
<line x1="552.70" y1="155.50" x2="552.70" y2="166.50" stroke="#333" stroke-width="0.9" />
<line x1="388.00" y1="163.60" x2="464.30" y2="163.60" stroke="#333" stroke-width="0.9" />
<line x1="464.30" y1="163.60" x2="552.70" y2="163.60" stroke="#333" stroke-width="0.9" />
<polygon points="388.0,163.6 392.5,162.2 392.5,165.0" fill="#333"/>
<polygon points="464.3,163.6 459.8,162.2 459.8,165.0" fill="#333"/>
<polygon points="464.3,163.6 468.8,162.2 468.8,165.0" fill="#333"/>
<polygon points="552.7,163.6 548.2,162.2 548.2,165.0" fill="#333"/>
<text x="427.60" y="161.60" font-size="8.0" fill="#333" font-family="'DejaVu Sans Mono','Liberation Mono',monospace" textLength="13.80" lengthAdjust="spacing" stroke="#333" stroke-width="0.2">min</text>
<text x="508.30" y="161.60" font-size="8.0" fill="#333" font-family="'DejaVu Sans Mono','Liberation Mono',monospace" text-anchor="middle" stroke="#333" stroke-width="0.2">h</text>
<text x="438.60" y="176.60" font-size="7.0" fill="#333" font-family="'DejaVu Sans Mono','Liberation Mono',monospace" textLength="52.80" lengthAdjust="spacingAndGlyphs" stroke="#333" stroke-width="0.2">Discharge time</text>
<line x1="192.40" y1="231.80" x2="192.40" y2="326.30" stroke="#3c3c3c" stroke-width="0.9" />
<line x1="218.50" y1="231.80" x2="218.50" y2="326.30" stroke="#3c3c3c" stroke-width="0.9" />
<line x1="244.90" y1="231.80" x2="244.90" y2="326.30" stroke="#3c3c3c" stroke-width="0.9" />
<line x1="271.60" y1="231.80" x2="271.60" y2="326.30" stroke="#3c3c3c" stroke-width="0.9" />
<line x1="297.60" y1="231.80" x2="297.60" y2="326.30" stroke="#3c3c3c" stroke-width="0.9" />
<line x1="166.30" y1="252.50" x2="323.60" y2="252.50" stroke="#3c3c3c" stroke-width="0.9" />
<line x1="166.30" y1="264.30" x2="323.60" y2="264.30" stroke="#3c3c3c" stroke-width="0.9" />
<line x1="166.30" y1="273.50" x2="323.60" y2="273.50" stroke="#3c3c3c" stroke-width="0.9" />
<line x1="166.30" y1="280.30" x2="323.60" y2="280.30" stroke="#3c3c3c" stroke-width="0.9" />
<line x1="166.30" y1="285.60" x2="323.60" y2="285.60" stroke="#3c3c3c" stroke-width="0.9" />
<line x1="166.30" y1="290.30" x2="323.60" y2="290.30" stroke="#3c3c3c" stroke-width="0.9" />
<line x1="166.30" y1="294.60" x2="323.60" y2="294.60" stroke="#3c3c3c" stroke-width="0.9" />
<line x1="166.30" y1="298.40" x2="323.60" y2="298.40" stroke="#3c3c3c" stroke-width="0.9" />
<line x1="166.30" y1="306.80" x2="323.60" y2="306.80" stroke="#3c3c3c" stroke-width="0.9" />
<line x1="166.30" y1="313.10" x2="323.60" y2="313.10" stroke="#3c3c3c" stroke-width="0.9" />
<line x1="166.30" y1="317.80" x2="323.60" y2="317.80" stroke="#3c3c3c" stroke-width="0.9" />
<line x1="166.30" y1="322.20" x2="323.60" y2="322.20" stroke="#3c3c3c" stroke-width="0.9" />
<rect x="166.30" y="231.80" width="157.30" height="94.50" fill="none" stroke="#3a3a3a" stroke-width="1.1" />
<text x="159.60" y="234.00" font-size="6.2" fill="#3a3a3a" font-family="'Liberation Serif','DejaVu Serif',serif" text-anchor="end"  stroke="#3a3a3a" stroke-width="0.2">25</text>
<text x="159.60" y="254.70" font-size="6.2" fill="#3a3a3a" font-family="'Liberation Serif','DejaVu Serif',serif" text-anchor="end"  stroke="#3a3a3a" stroke-width="0.2">20</text>
<text x="159.60" y="275.50" font-size="6.2" fill="#3a3a3a" font-family="'Liberation Serif','DejaVu Serif',serif" text-anchor="end"  stroke="#3a3a3a" stroke-width="0.2">10</text>
<text x="159.60" y="300.60" font-size="6.2" fill="#3a3a3a" font-family="'Liberation Serif','DejaVu Serif',serif" text-anchor="end"  stroke="#3a3a3a" stroke-width="0.2">5</text>
<text x="159.60" y="327.20" font-size="6.2" fill="#3a3a3a" font-family="'Liberation Serif','DejaVu Serif',serif" text-anchor="end"  stroke="#3a3a3a" stroke-width="0.2">0</text>
<text x="192.40" y="333.00" font-size="6.2" fill="#3a3a3a" font-family="'Liberation Serif','DejaVu Serif',serif" text-anchor="middle"  stroke="#3a3a3a" stroke-width="0.2">10</text>
<text x="218.50" y="333.00" font-size="6.2" fill="#3a3a3a" font-family="'Liberation Serif','DejaVu Serif',serif" text-anchor="middle"  stroke="#3a3a3a" stroke-width="0.2">20</text>
<text x="244.90" y="333.00" font-size="6.2" fill="#3a3a3a" font-family="'Liberation Serif','DejaVu Serif',serif" text-anchor="middle"  stroke="#3a3a3a" stroke-width="0.2">30</text>
<text x="271.60" y="333.00" font-size="6.2" fill="#3a3a3a" font-family="'Liberation Serif','DejaVu Serif',serif" text-anchor="middle"  stroke="#3a3a3a" stroke-width="0.2">40</text>
<text x="297.60" y="333.00" font-size="6.2" fill="#3a3a3a" font-family="'Liberation Serif','DejaVu Serif',serif" text-anchor="middle"  stroke="#3a3a3a" stroke-width="0.2">50</text>
<path d="M199.60,242.00 C200.45,241.87 202.52,241.15 204.70,241.20 C206.88,241.25 210.03,241.50 212.70,242.30 C215.37,243.10 217.82,244.33 220.70,246.00 C223.58,247.67 225.97,249.15 230.00,252.30 C234.03,255.45 240.23,260.98 244.90,264.90 C249.57,268.82 253.55,272.18 258.00,275.80 C262.45,279.42 267.10,283.13 271.60,286.60 C276.10,290.07 280.67,293.27 285.00,296.60 C289.33,299.93 295.50,304.93 297.60,306.60 L297.6,318.0 C295.50,316.28 289.33,311.13 285.00,307.70 C280.67,304.27 276.10,301.02 271.60,297.40 C267.10,293.78 262.45,289.80 258.00,286.00 C253.55,282.20 249.57,278.70 244.90,274.60 C240.23,270.50 234.03,264.90 230.00,261.40 C225.97,257.90 223.58,255.45 220.70,253.60 C217.82,251.75 215.37,251.00 212.70,250.30 C210.03,249.60 206.88,249.45 204.70,249.40 C202.52,249.35 200.45,249.90 199.60,250.00 Z" fill="url(#dots)" stroke="#3f4a50" stroke-width="1.0" />
<text x="233.90" y="249.00" font-size="6.2" fill="#444" font-family="'Liberation Serif','DejaVu Serif',serif" textLength="28.80" lengthAdjust="spacingAndGlyphs"  stroke="#444" stroke-width="0.2">2.30V/cell</text>
<text x="141.39" y="303.50" font-size="7.2" fill="#2a2a2a" font-family="'DejaVu Sans Mono','Liberation Mono',monospace" textLength="51.42" lengthAdjust="spacingAndGlyphs" transform="rotate(-90 141.39 303.50)" stroke="#2a2a2a" stroke-width="0.22">Life(years)</text>
<text x="204.20" y="343.89" font-size="7.2" fill="#2a2a2a" font-family="'DejaVu Sans Mono','Liberation Mono',monospace" textLength="73.52" lengthAdjust="spacingAndGlyphs" stroke="#2a2a2a" stroke-width="0.22">Temperature (℃)</text>
<line x1="418.20" y1="232.60" x2="418.20" y2="324.40" stroke="#444" stroke-width="0.9" />
<line x1="441.50" y1="232.60" x2="441.50" y2="324.40" stroke="#444" stroke-width="0.9" />
<line x1="464.80" y1="232.60" x2="464.80" y2="324.40" stroke="#444" stroke-width="0.9" />
<line x1="488.10" y1="232.60" x2="488.10" y2="324.40" stroke="#444" stroke-width="0.9" />
<line x1="511.40" y1="232.60" x2="511.40" y2="324.40" stroke="#444" stroke-width="0.9" />
<line x1="534.70" y1="232.60" x2="534.70" y2="324.40" stroke="#444" stroke-width="0.9" />
<line x1="394.90" y1="247.90" x2="558.00" y2="247.90" stroke="#444" stroke-width="0.9" />
<line x1="394.90" y1="263.20" x2="558.00" y2="263.20" stroke="#444" stroke-width="0.9" />
<line x1="394.90" y1="278.50" x2="558.00" y2="278.50" stroke="#444" stroke-width="0.9" />
<line x1="394.90" y1="293.80" x2="558.00" y2="293.80" stroke="#444" stroke-width="0.9" />
<line x1="394.90" y1="309.10" x2="558.00" y2="309.10" stroke="#444" stroke-width="0.9" />
<rect x="394.90" y="232.60" width="163.10" height="91.80" fill="none" stroke="#444" stroke-width="1.1" />
<text x="391.80" y="234.80" font-size="6.2" fill="#3a3a3a" font-family="'Liberation Serif','DejaVu Serif',serif" text-anchor="end"  stroke="#3a3a3a" stroke-width="0.2">120</text>
<text x="391.80" y="250.10" font-size="6.2" fill="#3a3a3a" font-family="'Liberation Serif','DejaVu Serif',serif" text-anchor="end"  stroke="#3a3a3a" stroke-width="0.2">100</text>
<text x="391.80" y="265.40" font-size="6.2" fill="#3a3a3a" font-family="'Liberation Serif','DejaVu Serif',serif" text-anchor="end"  stroke="#3a3a3a" stroke-width="0.2">80</text>
<text x="391.80" y="280.70" font-size="6.2" fill="#3a3a3a" font-family="'Liberation Serif','DejaVu Serif',serif" text-anchor="end"  stroke="#3a3a3a" stroke-width="0.2">60</text>
<text x="391.80" y="296.00" font-size="6.2" fill="#3a3a3a" font-family="'Liberation Serif','DejaVu Serif',serif" text-anchor="end"  stroke="#3a3a3a" stroke-width="0.2">40</text>
<text x="391.80" y="311.30" font-size="6.2" fill="#3a3a3a" font-family="'Liberation Serif','DejaVu Serif',serif" text-anchor="end"  stroke="#3a3a3a" stroke-width="0.2">20</text>
<text x="388.70" y="331.00" font-size="6.2" fill="#3a3a3a" font-family="'Liberation Serif','DejaVu Serif',serif" text-anchor="middle"  stroke="#3a3a3a" stroke-width="0.2">0</text>
<text x="418.20" y="331.00" font-size="6.2" fill="#3a3a3a" font-family="'Liberation Serif','DejaVu Serif',serif" text-anchor="middle"  stroke="#3a3a3a" stroke-width="0.2">300</text>
<text x="441.50" y="331.00" font-size="6.2" fill="#3a3a3a" font-family="'Liberation Serif','DejaVu Serif',serif" text-anchor="middle"  stroke="#3a3a3a" stroke-width="0.2">500</text>
<text x="464.80" y="331.00" font-size="6.2" fill="#3a3a3a" font-family="'Liberation Serif','DejaVu Serif',serif" text-anchor="middle"  stroke="#3a3a3a" stroke-width="0.2">800</text>
<text x="488.10" y="331.00" font-size="6.2" fill="#3a3a3a" font-family="'Liberation Serif','DejaVu Serif',serif" text-anchor="middle"  stroke="#3a3a3a" stroke-width="0.2">1000</text>
<text x="511.40" y="331.00" font-size="6.2" fill="#3a3a3a" font-family="'Liberation Serif','DejaVu Serif',serif" text-anchor="middle"  stroke="#3a3a3a" stroke-width="0.2">1500</text>
<text x="534.70" y="331.00" font-size="6.2" fill="#3a3a3a" font-family="'Liberation Serif','DejaVu Serif',serif" text-anchor="middle"  stroke="#3a3a3a" stroke-width="0.2">2000</text>
<text x="558.00" y="331.00" font-size="6.2" fill="#3a3a3a" font-family="'Liberation Serif','DejaVu Serif',serif" text-anchor="middle"  stroke="#3a3a3a" stroke-width="0.2">2500</text>
<path d="M394.9,248.2 C402,246.6 410,245.4 424,244.9 L424,247.6 C412,247.9 402,248.2 394.9,248.4 Z" fill="#c8cccc" stroke="#9a9e9e" stroke-width="0.6" />
<path d="M420.00,244.90 C422.50,244.73 430.83,244.13 435.00,243.90 C439.17,243.67 439.17,243.48 445.00,243.50 C450.83,243.52 462.50,243.48 470.00,244.00 C477.50,244.52 483.00,245.17 490.00,246.60 C497.00,248.03 504.50,250.03 512.00,252.60 C519.50,255.17 527.42,257.67 535.00,262.00 C542.58,266.33 553.75,275.83 557.50,278.60 L549,278.6 C546.67,276.93 541.17,272.05 535.00,268.60 C528.83,265.15 519.50,260.88 512.00,257.90 C504.50,254.92 497.00,252.53 490.00,250.70 C483.00,248.87 477.50,247.77 470.00,246.90 C462.50,246.03 450.83,245.77 445.00,245.50 C439.17,245.23 439.17,245.33 435.00,245.30 C430.83,245.27 422.50,245.30 420.00,245.30 Z" fill="#1d57a0" stroke="#1d57a0" stroke-width="0.4" />
<path d="M440.00,244.60 C440.72,244.63 441.27,244.38 444.30,244.80 C447.33,245.22 454.65,246.25 458.20,247.10 C461.75,247.95 462.97,248.35 465.60,249.90 C468.23,251.45 471.37,254.07 474.00,256.40 C476.63,258.73 479.23,261.42 481.40,263.90 C483.57,266.38 485.57,268.85 487.00,271.30 C488.43,273.75 489.50,277.38 490.00,278.60 L485.8,278.6 C485.38,277.53 484.50,274.35 483.30,272.20 C482.10,270.05 480.47,268.02 478.60,265.70 C476.73,263.38 474.72,260.85 472.10,258.30 C469.48,255.75 465.98,252.27 462.90,250.40 C459.82,248.53 457.42,248.02 453.60,247.10 C449.78,246.18 442.27,245.27 440.00,244.90 Z" fill="#2ea043" stroke="#2ea043" stroke-width="0.4" />
<path d="M416.90,248.30 C417.45,248.67 418.75,249.40 420.20,250.50 C421.65,251.60 423.98,253.45 425.60,254.90 C427.22,256.35 428.55,257.85 429.90,259.20 C431.25,260.55 432.43,261.55 433.70,263.00 C434.97,264.45 436.32,266.27 437.50,267.90 C438.68,269.53 439.83,271.17 440.80,272.80 C441.77,274.43 442.77,276.63 443.30,277.70 C443.83,278.77 443.88,278.95 444.00,279.20 L438.6,279.2 C438.42,278.50 438.13,276.52 437.50,275.00 C436.87,273.48 435.78,271.73 434.80,270.10 C433.82,268.47 432.68,266.75 431.60,265.20 C430.52,263.65 429.57,262.33 428.30,260.80 C427.03,259.27 425.55,257.68 424.00,256.00 C422.45,254.32 420.18,251.93 419.00,250.70 C417.82,249.47 417.25,248.95 416.90,248.60 Z" fill="#c8141e" stroke="#8a1c1c" stroke-width="0.5" />
<text x="437.50" y="282.00" font-size="4.6" fill="#7a4545" font-family="'Liberation Serif','DejaVu Serif',serif" textLength="22.00" lengthAdjust="spacingAndGlyphs"  stroke="#7a4545" stroke-width="0.2">100% D.O.D</text>
<text x="484.50" y="282.00" font-size="4.6" fill="#5a9060" font-family="'Liberation Serif','DejaVu Serif',serif" textLength="20.00" lengthAdjust="spacingAndGlyphs"  stroke="#5a9060" stroke-width="0.2">50% D.O.D</text>
<text x="513.60" y="282.00" font-size="4.6" fill="#34506e" font-family="'Liberation Serif','DejaVu Serif',serif" textLength="43.50" lengthAdjust="spacingAndGlyphs"  stroke="#34506e" stroke-width="0.2">30% Depth of discharge</text>
<text x="373.49" y="308.00" font-size="7.2" fill="#2a2a2a" font-family="'DejaVu Sans Mono','Liberation Mono',monospace" textLength="46.72" lengthAdjust="spacingAndGlyphs" transform="rotate(-90 373.49 308.00)" stroke="#2a2a2a" stroke-width="0.22">Capacity(%)</text>
<text x="422.70" y="342.92" font-size="7.0" fill="#2a2a2a" font-family="'DejaVu Sans Mono','Liberation Mono',monospace" textLength="104.10" lengthAdjust="spacingAndGlyphs" stroke="#2a2a2a" stroke-width="0.22">Number of cycles(cycles)</text>
<line x1="189.05" y1="403.20" x2="189.05" y2="493.10" stroke="#5a5450" stroke-width="0.9" />
<line x1="215.70" y1="403.20" x2="215.70" y2="493.10" stroke="#5a5450" stroke-width="0.9" />
<line x1="242.35" y1="403.20" x2="242.35" y2="493.10" stroke="#5a5450" stroke-width="0.9" />
<line x1="269.00" y1="403.20" x2="269.00" y2="493.10" stroke="#5a5450" stroke-width="0.9" />
<line x1="295.65" y1="403.20" x2="295.65" y2="493.10" stroke="#5a5450" stroke-width="0.9" />
<line x1="162.40" y1="418.18" x2="322.30" y2="418.18" stroke="#5a5450" stroke-width="0.9" />
<line x1="162.40" y1="433.17" x2="322.30" y2="433.17" stroke="#5a5450" stroke-width="0.9" />
<line x1="162.40" y1="448.15" x2="322.30" y2="448.15" stroke="#5a5450" stroke-width="0.9" />
<line x1="162.40" y1="463.13" x2="322.30" y2="463.13" stroke="#5a5450" stroke-width="0.9" />
<line x1="162.40" y1="478.12" x2="322.30" y2="478.12" stroke="#5a5450" stroke-width="0.9" />
<polygon points="162.40,413.30 322.30,457.60 322.30,472.30 162.40,427.50" fill="#cfe8f4" fill-opacity="0.92"/>
<polygon points="162.40,444.50 322.30,476.10 322.30,484.30 162.40,451.70" fill="#77c0df"/>
<line x1="162.40" y1="413.30" x2="322.30" y2="457.60" stroke="#2f3a40" stroke-width="1.0" />
<line x1="162.40" y1="427.50" x2="322.30" y2="472.30" stroke="#2f3a40" stroke-width="1.0" />
<line x1="162.40" y1="444.50" x2="322.30" y2="476.10" stroke="#2f3a40" stroke-width="1.0" />
<line x1="162.40" y1="451.70" x2="322.30" y2="484.30" stroke="#2f3a40" stroke-width="1.0" />
<rect x="162.40" y="403.20" width="159.90" height="89.90" fill="none" stroke="#3a3a3a" stroke-width="1.1" />
<text x="157.40" y="420.38" font-size="6.0" fill="#3a3a3a" font-family="'Liberation Serif','DejaVu Serif',serif" text-anchor="end"  stroke="#3a3a3a" stroke-width="0.2">2.6</text>
<text x="157.40" y="435.37" font-size="6.0" fill="#3a3a3a" font-family="'Liberation Serif','DejaVu Serif',serif" text-anchor="end"  stroke="#3a3a3a" stroke-width="0.2">2.5</text>
<text x="157.40" y="450.35" font-size="6.0" fill="#3a3a3a" font-family="'Liberation Serif','DejaVu Serif',serif" text-anchor="end"  stroke="#3a3a3a" stroke-width="0.2">2.4</text>
<text x="157.40" y="465.33" font-size="6.0" fill="#3a3a3a" font-family="'Liberation Serif','DejaVu Serif',serif" text-anchor="end"  stroke="#3a3a3a" stroke-width="0.2">2.3</text>
<text x="157.40" y="480.32" font-size="6.0" fill="#3a3a3a" font-family="'Liberation Serif','DejaVu Serif',serif" text-anchor="end"  stroke="#3a3a3a" stroke-width="0.2">2.2</text>
<text x="162.40" y="499.00" font-size="6.0" fill="#3a3a3a" font-family="'Liberation Serif','DejaVu Serif',serif" text-anchor="middle"  stroke="#3a3a3a" stroke-width="0.2">-10</text>
<text x="189.05" y="499.00" font-size="6.0" fill="#3a3a3a" font-family="'Liberation Serif','DejaVu Serif',serif" text-anchor="middle"  stroke="#3a3a3a" stroke-width="0.2">0</text>
<text x="215.70" y="499.00" font-size="6.0" fill="#3a3a3a" font-family="'Liberation Serif','DejaVu Serif',serif" text-anchor="middle"  stroke="#3a3a3a" stroke-width="0.2">10</text>
<text x="242.35" y="499.00" font-size="6.0" fill="#3a3a3a" font-family="'Liberation Serif','DejaVu Serif',serif" text-anchor="middle"  stroke="#3a3a3a" stroke-width="0.2">20</text>
<text x="269.00" y="499.00" font-size="6.0" fill="#3a3a3a" font-family="'Liberation Serif','DejaVu Serif',serif" text-anchor="middle"  stroke="#3a3a3a" stroke-width="0.2">30</text>
<text x="295.65" y="499.00" font-size="6.0" fill="#3a3a3a" font-family="'Liberation Serif','DejaVu Serif',serif" text-anchor="middle"  stroke="#3a3a3a" stroke-width="0.2">40</text>
<text x="322.30" y="499.00" font-size="6.0" fill="#3a3a3a" font-family="'Liberation Serif','DejaVu Serif',serif" text-anchor="middle"  stroke="#3a3a3a" stroke-width="0.2">50</text>
<g transform="translate(214.4,437.4) rotate(15.5)">
<text x="0.00" y="0.00" font-size="9.0" fill="#3a7aaa" font-family="'Liberation Sans','DejaVu Sans',sans-serif" textLength="24.50" lengthAdjust="spacingAndGlyphs" font-style="italic" stroke="#3a7aaa" stroke-width="0.3">CYCLE</text>
<text x="29.80" y="0.00" font-size="9.0" fill="#3a7aaa" font-family="'Liberation Sans','DejaVu Sans',sans-serif" textLength="15.50" lengthAdjust="spacingAndGlyphs" font-style="italic" stroke="#3a7aaa" stroke-width="0.3">USE</text>
</g>
<text x="211.20" y="459.00" font-size="5.0" fill="#2f79b0" font-family="'Liberation Sans','DejaVu Sans',sans-serif" textLength="34.00" lengthAdjust="spacingAndGlyphs" font-weight="bold" font-style="italic" transform="rotate(11.5 211.20 459.00)" >STAND BY USE</text>
<text x="138.22" y="471.00" font-size="7.0" fill="#2a2a2a" font-family="'DejaVu Sans Mono','Liberation Mono',monospace" textLength="37.70" lengthAdjust="spacingAndGlyphs" transform="rotate(-90 138.22 471.00)" stroke="#2a2a2a" stroke-width="0.22">Voltage(V)</text>
<text x="200.20" y="511.22" font-size="7.0" fill="#2a2a2a" font-family="'DejaVu Sans Mono','Liberation Mono',monospace" textLength="96.20" lengthAdjust="spacingAndGlyphs" stroke="#2a2a2a" stroke-width="0.22">Ambient temperature(℃)</text>
<line x1="406.07" y1="402.50" x2="406.07" y2="492.20" stroke="#4a4a4a" stroke-width="0.85" />
<line x1="413.95" y1="402.50" x2="413.95" y2="492.20" stroke="#4a4a4a" stroke-width="0.85" />
<line x1="421.82" y1="402.50" x2="421.82" y2="492.20" stroke="#4a4a4a" stroke-width="0.85" />
<line x1="429.70" y1="402.50" x2="429.70" y2="492.20" stroke="#4a4a4a" stroke-width="0.85" />
<line x1="437.57" y1="402.50" x2="437.57" y2="492.20" stroke="#4a4a4a" stroke-width="0.85" />
<line x1="445.45" y1="402.50" x2="445.45" y2="492.20" stroke="#4a4a4a" stroke-width="0.85" />
<line x1="453.32" y1="402.50" x2="453.32" y2="492.20" stroke="#4a4a4a" stroke-width="0.85" />
<line x1="461.20" y1="402.50" x2="461.20" y2="492.20" stroke="#4a4a4a" stroke-width="0.85" />
<line x1="469.08" y1="402.50" x2="469.08" y2="492.20" stroke="#4a4a4a" stroke-width="0.85" />
<line x1="476.95" y1="402.50" x2="476.95" y2="492.20" stroke="#4a4a4a" stroke-width="0.85" />
<line x1="484.83" y1="402.50" x2="484.83" y2="492.20" stroke="#4a4a4a" stroke-width="0.85" />
<line x1="492.70" y1="402.50" x2="492.70" y2="492.20" stroke="#4a4a4a" stroke-width="0.85" />
<line x1="500.58" y1="402.50" x2="500.58" y2="492.20" stroke="#4a4a4a" stroke-width="0.85" />
<line x1="508.45" y1="402.50" x2="508.45" y2="492.20" stroke="#4a4a4a" stroke-width="0.85" />
<line x1="516.33" y1="402.50" x2="516.33" y2="492.20" stroke="#4a4a4a" stroke-width="0.85" />
<line x1="524.20" y1="402.50" x2="524.20" y2="492.20" stroke="#4a4a4a" stroke-width="0.85" />
<line x1="532.08" y1="402.50" x2="532.08" y2="492.20" stroke="#4a4a4a" stroke-width="0.85" />
<line x1="539.95" y1="402.50" x2="539.95" y2="492.20" stroke="#4a4a4a" stroke-width="0.85" />
<line x1="547.83" y1="402.50" x2="547.83" y2="492.20" stroke="#4a4a4a" stroke-width="0.85" />
<line x1="398.20" y1="408.91" x2="555.70" y2="408.91" stroke="#4a4a4a" stroke-width="0.85" />
<line x1="398.20" y1="415.31" x2="555.70" y2="415.31" stroke="#4a4a4a" stroke-width="0.85" />
<line x1="398.20" y1="421.72" x2="555.70" y2="421.72" stroke="#4a4a4a" stroke-width="0.85" />
<line x1="398.20" y1="428.13" x2="555.70" y2="428.13" stroke="#4a4a4a" stroke-width="0.85" />
<line x1="398.20" y1="434.54" x2="555.70" y2="434.54" stroke="#4a4a4a" stroke-width="0.85" />
<line x1="398.20" y1="440.94" x2="555.70" y2="440.94" stroke="#4a4a4a" stroke-width="0.85" />
<line x1="398.20" y1="447.35" x2="555.70" y2="447.35" stroke="#4a4a4a" stroke-width="0.85" />
<line x1="398.20" y1="453.76" x2="555.70" y2="453.76" stroke="#4a4a4a" stroke-width="0.85" />
<line x1="398.20" y1="460.16" x2="555.70" y2="460.16" stroke="#4a4a4a" stroke-width="0.85" />
<line x1="398.20" y1="466.57" x2="555.70" y2="466.57" stroke="#4a4a4a" stroke-width="0.85" />
<line x1="398.20" y1="472.98" x2="555.70" y2="472.98" stroke="#4a4a4a" stroke-width="0.85" />
<line x1="398.20" y1="479.39" x2="555.70" y2="479.39" stroke="#4a4a4a" stroke-width="0.85" />
<line x1="398.20" y1="485.79" x2="555.70" y2="485.79" stroke="#4a4a4a" stroke-width="0.85" />
<rect x="398.20" y="402.50" width="157.50" height="89.70" fill="none" stroke="#333" stroke-width="1.2" />
<line x1="398.20" y1="405.70" x2="400.40" y2="405.70" stroke="#222" stroke-width="1.1" />
<line x1="398.20" y1="412.11" x2="400.40" y2="412.11" stroke="#222" stroke-width="1.1" />
<line x1="398.20" y1="418.52" x2="400.40" y2="418.52" stroke="#222" stroke-width="1.1" />
<line x1="398.20" y1="424.93" x2="400.40" y2="424.93" stroke="#222" stroke-width="1.1" />
<line x1="398.20" y1="431.33" x2="400.40" y2="431.33" stroke="#222" stroke-width="1.1" />
<line x1="398.20" y1="437.74" x2="400.40" y2="437.74" stroke="#222" stroke-width="1.1" />
<line x1="398.20" y1="444.15" x2="400.40" y2="444.15" stroke="#222" stroke-width="1.1" />
<line x1="398.20" y1="450.55" x2="400.40" y2="450.55" stroke="#222" stroke-width="1.1" />
<line x1="398.20" y1="456.96" x2="400.40" y2="456.96" stroke="#222" stroke-width="1.1" />
<line x1="398.20" y1="463.37" x2="400.40" y2="463.37" stroke="#222" stroke-width="1.1" />
<line x1="398.20" y1="469.77" x2="400.40" y2="469.77" stroke="#222" stroke-width="1.1" />
<line x1="398.20" y1="476.18" x2="400.40" y2="476.18" stroke="#222" stroke-width="1.1" />
<line x1="398.20" y1="482.59" x2="400.40" y2="482.59" stroke="#222" stroke-width="1.1" />
<line x1="398.20" y1="489.00" x2="400.40" y2="489.00" stroke="#222" stroke-width="1.1" />
<line x1="402.14" y1="490.00" x2="402.14" y2="492.20" stroke="#222" stroke-width="1.3" />
<line x1="410.01" y1="490.00" x2="410.01" y2="492.20" stroke="#222" stroke-width="1.3" />
<line x1="417.89" y1="490.00" x2="417.89" y2="492.20" stroke="#222" stroke-width="1.3" />
<line x1="425.76" y1="490.00" x2="425.76" y2="492.20" stroke="#222" stroke-width="1.3" />
<line x1="433.64" y1="490.00" x2="433.64" y2="492.20" stroke="#222" stroke-width="1.3" />
<line x1="441.51" y1="490.00" x2="441.51" y2="492.20" stroke="#222" stroke-width="1.3" />
<line x1="449.39" y1="490.00" x2="449.39" y2="492.20" stroke="#222" stroke-width="1.3" />
<line x1="457.26" y1="490.00" x2="457.26" y2="492.20" stroke="#222" stroke-width="1.3" />
<line x1="465.14" y1="490.00" x2="465.14" y2="492.20" stroke="#222" stroke-width="1.3" />
<line x1="473.01" y1="490.00" x2="473.01" y2="492.20" stroke="#222" stroke-width="1.3" />
<line x1="480.89" y1="490.00" x2="480.89" y2="492.20" stroke="#222" stroke-width="1.3" />
<line x1="488.76" y1="490.00" x2="488.76" y2="492.20" stroke="#222" stroke-width="1.3" />
<line x1="496.64" y1="490.00" x2="496.64" y2="492.20" stroke="#222" stroke-width="1.3" />
<line x1="504.51" y1="490.00" x2="504.51" y2="492.20" stroke="#222" stroke-width="1.3" />
<line x1="512.39" y1="490.00" x2="512.39" y2="492.20" stroke="#222" stroke-width="1.3" />
<line x1="520.26" y1="490.00" x2="520.26" y2="492.20" stroke="#222" stroke-width="1.3" />
<line x1="528.14" y1="490.00" x2="528.14" y2="492.20" stroke="#222" stroke-width="1.3" />
<line x1="536.01" y1="490.00" x2="536.01" y2="492.20" stroke="#222" stroke-width="1.3" />
<line x1="543.89" y1="490.00" x2="543.89" y2="492.20" stroke="#222" stroke-width="1.3" />
<line x1="551.76" y1="490.00" x2="551.76" y2="492.20" stroke="#222" stroke-width="1.3" />
<text x="395.20" y="404.70" font-size="6.0" fill="#3a3a3a" font-family="'Liberation Serif','DejaVu Serif',serif" text-anchor="end"  stroke="#3a3a3a" stroke-width="0.2">110</text>
<text x="395.20" y="417.51" font-size="6.0" fill="#3a3a3a" font-family="'Liberation Serif','DejaVu Serif',serif" text-anchor="end"  stroke="#3a3a3a" stroke-width="0.2">100</text>
<text x="395.20" y="430.33" font-size="6.0" fill="#3a3a3a" font-family="'Liberation Serif','DejaVu Serif',serif" text-anchor="end"  stroke="#3a3a3a" stroke-width="0.2">90</text>
<text x="395.20" y="443.14" font-size="6.0" fill="#3a3a3a" font-family="'Liberation Serif','DejaVu Serif',serif" text-anchor="end"  stroke="#3a3a3a" stroke-width="0.2">80</text>
<text x="395.20" y="455.96" font-size="6.0" fill="#3a3a3a" font-family="'Liberation Serif','DejaVu Serif',serif" text-anchor="end"  stroke="#3a3a3a" stroke-width="0.2">70</text>
<text x="395.20" y="468.77" font-size="6.0" fill="#3a3a3a" font-family="'Liberation Serif','DejaVu Serif',serif" text-anchor="end"  stroke="#3a3a3a" stroke-width="0.2">60</text>
<text x="395.20" y="481.59" font-size="6.0" fill="#3a3a3a" font-family="'Liberation Serif','DejaVu Serif',serif" text-anchor="end"  stroke="#3a3a3a" stroke-width="0.2">50</text>
<text x="395.20" y="494.40" font-size="6.0" fill="#3a3a3a" font-family="'Liberation Serif','DejaVu Serif',serif" text-anchor="end"  stroke="#3a3a3a" stroke-width="0.2">40</text>
<text x="398.20" y="500.60" font-size="6.0" fill="#3a3a3a" font-family="'Liberation Serif','DejaVu Serif',serif" text-anchor="middle"  stroke="#3a3a3a" stroke-width="0.2">0</text>
<text x="413.95" y="500.60" font-size="6.0" fill="#3a3a3a" font-family="'Liberation Serif','DejaVu Serif',serif" text-anchor="middle"  stroke="#3a3a3a" stroke-width="0.2">2</text>
<text x="429.70" y="500.60" font-size="6.0" fill="#3a3a3a" font-family="'Liberation Serif','DejaVu Serif',serif" text-anchor="middle"  stroke="#3a3a3a" stroke-width="0.2">4</text>
<text x="445.45" y="500.60" font-size="6.0" fill="#3a3a3a" font-family="'Liberation Serif','DejaVu Serif',serif" text-anchor="middle"  stroke="#3a3a3a" stroke-width="0.2">6</text>
<text x="461.20" y="500.60" font-size="6.0" fill="#3a3a3a" font-family="'Liberation Serif','DejaVu Serif',serif" text-anchor="middle"  stroke="#3a3a3a" stroke-width="0.2">8</text>
<text x="476.95" y="500.60" font-size="6.0" fill="#3a3a3a" font-family="'Liberation Serif','DejaVu Serif',serif" text-anchor="middle"  stroke="#3a3a3a" stroke-width="0.2">10</text>
<text x="492.70" y="500.60" font-size="6.0" fill="#3a3a3a" font-family="'Liberation Serif','DejaVu Serif',serif" text-anchor="middle"  stroke="#3a3a3a" stroke-width="0.2">12</text>
<text x="508.45" y="500.60" font-size="6.0" fill="#3a3a3a" font-family="'Liberation Serif','DejaVu Serif',serif" text-anchor="middle"  stroke="#3a3a3a" stroke-width="0.2">14</text>
<text x="524.20" y="500.60" font-size="6.0" fill="#3a3a3a" font-family="'Liberation Serif','DejaVu Serif',serif" text-anchor="middle"  stroke="#3a3a3a" stroke-width="0.2">16</text>
<text x="539.95" y="500.60" font-size="6.0" fill="#3a3a3a" font-family="'Liberation Serif','DejaVu Serif',serif" text-anchor="middle"  stroke="#3a3a3a" stroke-width="0.2">18</text>
<text x="555.70" y="500.60" font-size="6.0" fill="#3a3a3a" font-family="'Liberation Serif','DejaVu Serif',serif" text-anchor="middle"  stroke="#3a3a3a" stroke-width="0.2">20</text>
<path d="M398.20,415.31 C399.51,416.38 403.45,420.01 406.07,421.72 C408.70,423.43 410.01,423.64 413.95,425.57 C417.89,427.49 424.45,430.80 429.70,433.25 C434.95,435.71 440.20,437.85 445.45,440.30 C450.70,442.76 453.32,444.04 461.20,447.99 C469.07,451.94 482.20,458.69 492.70,464.01 C503.20,469.33 518.95,477.25 524.20,479.90" fill="none" stroke="#2f5068" stroke-width="1.2" />
<line x1="398.20" y1="415.31" x2="480.89" y2="479.39" stroke="#a4b466" stroke-width="1.15" stroke-dasharray="2.6,0.9"/>
<line x1="398.20" y1="417.24" x2="437.57" y2="479.39" stroke="#904848" stroke-width="1.2" />
<circle cx="437.57" cy="479.39" r="1.3" fill="#703a3a"/>
<circle cx="480.89" cy="479.39" r="1.3" fill="#a0a850"/>
<circle cx="524.20" cy="479.90" r="1.3" fill="#2f5068"/>
<text x="415.60" y="472.90" font-size="7.2" fill="#b06060" font-family="'Liberation Serif','DejaVu Serif',serif" textLength="11.00" lengthAdjust="spacingAndGlyphs"  stroke="#b06060" stroke-width="0.2">40℃</text>
<text x="449.70" y="472.90" font-size="7.2" fill="#8aa070" font-family="'Liberation Serif','DejaVu Serif',serif" textLength="11.50" lengthAdjust="spacingAndGlyphs"  stroke="#8aa070" stroke-width="0.2">30℃</text>
<text x="484.00" y="472.60" font-size="7.2" fill="#6080a8" font-family="'Liberation Serif','DejaVu Serif',serif" textLength="12.00" lengthAdjust="spacingAndGlyphs"  stroke="#6080a8" stroke-width="0.2">20℃</text>
<text x="375.99" y="471.00" font-size="7.2" fill="#2a2a2a" font-family="'DejaVu Sans Mono','Liberation Mono',monospace" textLength="46.82" lengthAdjust="spacingAndGlyphs" transform="rotate(-90 375.99 471.00)" stroke="#2a2a2a" stroke-width="0.22">Capacity(%)</text>
<text x="437.20" y="512.19" font-size="7.2" fill="#2a2a2a" font-family="'DejaVu Sans Mono','Liberation Mono',monospace" textLength="86.02" lengthAdjust="spacingAndGlyphs" stroke="#2a2a2a" stroke-width="0.22">Storage time:months</text>
<line x1="188.33" y1="571.10" x2="188.33" y2="663.10" stroke="#3a3a3a" stroke-width="0.9" />
<line x1="216.47" y1="571.10" x2="216.47" y2="663.10" stroke="#3a3a3a" stroke-width="0.9" />
<line x1="244.60" y1="571.10" x2="244.60" y2="663.10" stroke="#3a3a3a" stroke-width="0.9" />
<line x1="272.73" y1="571.10" x2="272.73" y2="663.10" stroke="#3a3a3a" stroke-width="0.9" />
<line x1="300.87" y1="571.10" x2="300.87" y2="663.10" stroke="#3a3a3a" stroke-width="0.9" />
<line x1="160.20" y1="586.43" x2="329.00" y2="586.43" stroke="#3a3a3a" stroke-width="0.9" />
<line x1="160.20" y1="601.77" x2="329.00" y2="601.77" stroke="#3a3a3a" stroke-width="0.9" />
<line x1="160.20" y1="617.10" x2="329.00" y2="617.10" stroke="#3a3a3a" stroke-width="0.9" />
<line x1="160.20" y1="632.43" x2="329.00" y2="632.43" stroke="#3a3a3a" stroke-width="0.9" />
<line x1="160.20" y1="647.77" x2="329.00" y2="647.77" stroke="#3a3a3a" stroke-width="0.9" />
<path d="M160.20,586.50 C165.00,586.50 179.53,586.50 189.00,586.50 C198.47,586.50 207.67,586.43 217.00,586.50 C226.33,586.57 235.73,586.62 245.00,586.90 C254.27,587.18 263.37,587.20 272.60,588.20 C281.83,589.20 291.02,590.98 300.40,592.90 C309.78,594.82 324.15,598.57 328.90,599.70 L328.9,618.4 C324.15,617.07 309.78,612.93 300.40,610.40 C291.02,607.87 281.83,605.57 272.60,603.20 C263.37,600.83 254.27,598.13 245.00,596.20 C235.73,594.27 226.33,592.75 217.00,591.60 C207.67,590.45 198.47,589.92 189.00,589.30 C179.53,588.68 165.00,588.13 160.20,587.90 Z" fill="url(#dots2)" stroke="#3c4a52" stroke-width="1.0" />
<rect x="160.20" y="571.10" width="168.80" height="92.00" fill="none" stroke="#333" stroke-width="1.2" />
<text x="156.20" y="573.30" font-size="6.0" fill="#3a3a3a" font-family="'Liberation Serif','DejaVu Serif',serif" text-anchor="end"  stroke="#3a3a3a" stroke-width="0.2">120</text>
<text x="156.20" y="588.63" font-size="6.0" fill="#3a3a3a" font-family="'Liberation Serif','DejaVu Serif',serif" text-anchor="end"  stroke="#3a3a3a" stroke-width="0.2">100</text>
<text x="156.20" y="603.97" font-size="6.0" fill="#3a3a3a" font-family="'Liberation Serif','DejaVu Serif',serif" text-anchor="end"  stroke="#3a3a3a" stroke-width="0.2">80</text>
<text x="156.20" y="619.30" font-size="6.0" fill="#3a3a3a" font-family="'Liberation Serif','DejaVu Serif',serif" text-anchor="end"  stroke="#3a3a3a" stroke-width="0.2">60</text>
<text x="156.20" y="634.63" font-size="6.0" fill="#3a3a3a" font-family="'Liberation Serif','DejaVu Serif',serif" text-anchor="end"  stroke="#3a3a3a" stroke-width="0.2">40</text>
<text x="156.20" y="649.97" font-size="6.0" fill="#3a3a3a" font-family="'Liberation Serif','DejaVu Serif',serif" text-anchor="end"  stroke="#3a3a3a" stroke-width="0.2">20</text>
<text x="160.20" y="672.80" font-size="6.0" fill="#3a3a3a" font-family="'Liberation Serif','DejaVu Serif',serif" text-anchor="middle"  stroke="#3a3a3a" stroke-width="0.2">0</text>
<text x="188.30" y="672.80" font-size="6.0" fill="#3a3a3a" font-family="'Liberation Serif','DejaVu Serif',serif" text-anchor="middle"  stroke="#3a3a3a" stroke-width="0.2">5</text>
<text x="244.60" y="672.80" font-size="6.0" fill="#3a3a3a" font-family="'Liberation Serif','DejaVu Serif',serif" text-anchor="middle"  stroke="#3a3a3a" stroke-width="0.2">10</text>
<text x="300.90" y="672.80" font-size="6.0" fill="#3a3a3a" font-family="'Liberation Serif','DejaVu Serif',serif" text-anchor="middle"  stroke="#3a3a3a" stroke-width="0.2">15</text>
<rect x="170.50" y="619.60" width="143.50" height="6.60" fill="#fff" stroke="none" stroke-width="1" />
<rect x="201.00" y="625.80" width="84.50" height="5.80" fill="#fff" stroke="none" stroke-width="1" />
<text x="171.60" y="625.00" font-size="5.2" fill="#3a3a3a" font-family="'DejaVu Sans Mono','Liberation Mono',monospace" textLength="141.50" lengthAdjust="spacingAndGlyphs" stroke="#3a3a3a" stroke-width="0.08">Testing conditions floating voltage:2.27 to2.30V/cell</text>
<text x="202.20" y="630.30" font-size="5.2" fill="#2a2a2a" font-family="'DejaVu Sans Mono','Liberation Mono',monospace" textLength="83.00" lengthAdjust="spacingAndGlyphs" stroke="#2a2a2a" stroke-width="0.15">ambient temperature:25℃(77°F)</text>
<text x="140.92" y="642.80" font-size="7.0" fill="#2a2a2a" font-family="'DejaVu Sans Mono','Liberation Mono',monospace" textLength="48.30" lengthAdjust="spacingAndGlyphs" transform="rotate(-90 140.92 642.80)" stroke="#2a2a2a" stroke-width="0.22">Capacity(%)</text>
<text x="221.70" y="680.66" font-size="7.4" fill="#2a2a2a" font-family="'DejaVu Sans Mono','Liberation Mono',monospace" textLength="43.24" lengthAdjust="spacingAndGlyphs" stroke="#2a2a2a" stroke-width="0.22">Life(year)</text>
<line x1="409.47" y1="571.60" x2="409.47" y2="660.10" stroke="#3a3a3a" stroke-width="0.9" />
<line x1="434.64" y1="571.60" x2="434.64" y2="660.10" stroke="#3a3a3a" stroke-width="0.9" />
<line x1="459.81" y1="571.60" x2="459.81" y2="660.10" stroke="#3a3a3a" stroke-width="0.9" />
<line x1="484.99" y1="571.60" x2="484.99" y2="660.10" stroke="#3a3a3a" stroke-width="0.9" />
<line x1="510.16" y1="571.60" x2="510.16" y2="660.10" stroke="#3a3a3a" stroke-width="0.9" />
<line x1="535.33" y1="571.60" x2="535.33" y2="660.10" stroke="#3a3a3a" stroke-width="0.9" />
<line x1="384.30" y1="586.35" x2="560.50" y2="586.35" stroke="#3a3a3a" stroke-width="0.9" />
<line x1="384.30" y1="601.10" x2="560.50" y2="601.10" stroke="#3a3a3a" stroke-width="0.9" />
<line x1="384.30" y1="615.85" x2="560.50" y2="615.85" stroke="#3a3a3a" stroke-width="0.9" />
<line x1="384.30" y1="630.60" x2="560.50" y2="630.60" stroke="#3a3a3a" stroke-width="0.9" />
<line x1="384.30" y1="645.35" x2="560.50" y2="645.35" stroke="#3a3a3a" stroke-width="0.9" />
<path d="M384.30,617.47 C388.50,616.40 401.08,613.10 409.47,611.06 C417.86,609.02 426.25,607.14 434.64,605.23 C443.03,603.32 451.42,601.44 459.81,599.62 C468.20,597.81 476.60,595.94 484.99,594.32 C493.38,592.69 501.77,591.24 510.16,589.89 C518.55,588.54 526.94,587.25 535.33,586.20 C543.72,585.16 556.30,584.05 560.50,583.62" fill="none" stroke="#b04a55" stroke-width="1.2" />
<path d="M384.30,626.62 C388.50,625.59 401.08,622.46 409.47,620.42 C417.86,618.38 426.25,616.40 434.64,614.38 C443.03,612.35 451.42,610.20 459.81,608.25 C468.20,606.31 476.60,604.41 484.99,602.72 C493.38,601.04 501.77,599.51 510.16,598.15 C518.55,596.79 526.94,595.58 535.33,594.54 C543.72,593.49 556.30,592.32 560.50,591.88" fill="none" stroke="#a3cc84" stroke-width="1.2" />
<path d="M384.30,634.14 C388.50,633.18 401.08,630.28 409.47,628.39 C417.86,626.49 426.25,624.63 434.64,622.78 C443.03,620.94 451.42,619.11 459.81,617.33 C468.20,615.54 476.60,613.74 484.99,612.09 C493.38,610.44 501.77,608.89 510.16,607.44 C518.55,605.99 526.94,604.57 535.33,603.39 C543.72,602.21 556.30,600.87 560.50,600.36" fill="none" stroke="#26557e" stroke-width="1.2" />
<path d="M384.30,650.07 C388.50,649.21 401.08,646.64 409.47,644.91 C417.86,643.17 426.25,641.38 434.64,639.67 C443.03,637.96 451.42,636.29 459.81,634.66 C468.20,633.02 476.60,631.44 484.99,629.86 C493.38,628.29 501.77,626.70 510.16,625.22 C518.55,623.73 526.94,622.30 535.33,620.94 C543.72,619.57 556.30,617.68 560.50,617.03" fill="none" stroke="#b04a55" stroke-width="1.2" />
<path d="M409.47,660.10 C413.67,659.02 426.25,655.56 434.64,653.61 C443.03,651.66 451.42,649.97 459.81,648.37 C468.20,646.78 476.60,645.41 484.99,644.02 C493.38,642.63 501.77,641.40 510.16,640.04 C518.55,638.68 526.94,637.03 535.33,635.84 C543.72,634.64 556.30,633.38 560.50,632.89" fill="none" stroke="#a3cc84" stroke-width="1.2" />
<rect x="384.30" y="571.60" width="176.20" height="88.50" fill="none" stroke="#333" stroke-width="1.2" />
<text x="382.00" y="573.80" font-size="6.0" fill="#3a3a3a" font-family="'Liberation Serif','DejaVu Serif',serif" text-anchor="end"  stroke="#3a3a3a" stroke-width="0.2">120</text>
<text x="382.00" y="588.55" font-size="6.0" fill="#3a3a3a" font-family="'Liberation Serif','DejaVu Serif',serif" text-anchor="end"  stroke="#3a3a3a" stroke-width="0.2">100</text>
<text x="382.00" y="603.30" font-size="6.0" fill="#3a3a3a" font-family="'Liberation Serif','DejaVu Serif',serif" text-anchor="end"  stroke="#3a3a3a" stroke-width="0.2">80</text>
<text x="382.00" y="618.05" font-size="6.0" fill="#3a3a3a" font-family="'Liberation Serif','DejaVu Serif',serif" text-anchor="end"  stroke="#3a3a3a" stroke-width="0.2">60</text>
<text x="382.00" y="632.80" font-size="6.0" fill="#3a3a3a" font-family="'Liberation Serif','DejaVu Serif',serif" text-anchor="end"  stroke="#3a3a3a" stroke-width="0.2">40</text>
<text x="382.00" y="647.55" font-size="6.0" fill="#3a3a3a" font-family="'Liberation Serif','DejaVu Serif',serif" text-anchor="end"  stroke="#3a3a3a" stroke-width="0.2">20</text>
<text x="382.00" y="662.30" font-size="6.0" fill="#3a3a3a" font-family="'Liberation Serif','DejaVu Serif',serif" text-anchor="end"  stroke="#3a3a3a" stroke-width="0.2">0</text>
<text x="384.30" y="668.80" font-size="6.0" fill="#3a3a3a" font-family="'Liberation Serif','DejaVu Serif',serif" text-anchor="middle"  stroke="#3a3a3a" stroke-width="0.2">-20</text>
<text x="409.47" y="668.80" font-size="6.0" fill="#3a3a3a" font-family="'Liberation Serif','DejaVu Serif',serif" text-anchor="middle"  stroke="#3a3a3a" stroke-width="0.2">-10</text>
<text x="434.64" y="668.80" font-size="6.0" fill="#3a3a3a" font-family="'Liberation Serif','DejaVu Serif',serif" text-anchor="middle"  stroke="#3a3a3a" stroke-width="0.2">0</text>
<text x="459.81" y="668.80" font-size="6.0" fill="#3a3a3a" font-family="'Liberation Serif','DejaVu Serif',serif" text-anchor="middle"  stroke="#3a3a3a" stroke-width="0.2">10</text>
<text x="484.99" y="668.80" font-size="6.0" fill="#3a3a3a" font-family="'Liberation Serif','DejaVu Serif',serif" text-anchor="middle"  stroke="#3a3a3a" stroke-width="0.2">20</text>
<text x="510.16" y="668.80" font-size="6.0" fill="#3a3a3a" font-family="'Liberation Serif','DejaVu Serif',serif" text-anchor="middle"  stroke="#3a3a3a" stroke-width="0.2">30</text>
<text x="535.33" y="668.80" font-size="6.0" fill="#3a3a3a" font-family="'Liberation Serif','DejaVu Serif',serif" text-anchor="middle"  stroke="#3a3a3a" stroke-width="0.2">40</text>
<text x="560.50" y="668.80" font-size="6.0" fill="#3a3a3a" font-family="'Liberation Serif','DejaVu Serif',serif" text-anchor="middle"  stroke="#3a3a3a" stroke-width="0.2">50</text>
<text x="442.50" y="601.00" font-size="6.0" fill="#333" font-family="'DejaVu Sans Mono','Liberation Mono',monospace" textLength="13.00" lengthAdjust="spacingAndGlyphs" transform="rotate(-10 442.50 601.00)" >0.1C</text>
<text x="444.50" y="609.00" font-size="6.0" fill="#333" font-family="'DejaVu Sans Mono','Liberation Mono',monospace" textLength="13.00" lengthAdjust="spacingAndGlyphs" transform="rotate(-10 444.50 609.00)" >0.2C</text>
<text x="446.30" y="618.40" font-size="6.0" fill="#333" font-family="'DejaVu Sans Mono','Liberation Mono',monospace" textLength="13.00" lengthAdjust="spacingAndGlyphs" transform="rotate(-10 446.30 618.40)" >0.3C</text>
<text x="486.80" y="627.60" font-size="6.0" fill="#333" font-family="'DejaVu Sans Mono','Liberation Mono',monospace" textLength="13.00" lengthAdjust="spacingAndGlyphs" transform="rotate(-10 486.80 627.60)" >1.0C</text>
<text x="489.20" y="641.00" font-size="6.0" fill="#333" font-family="'DejaVu Sans Mono','Liberation Mono',monospace" textLength="13.00" lengthAdjust="spacingAndGlyphs" transform="rotate(-8 489.20 641.00)" >2.0C</text>
<text x="369.79" y="640.00" font-size="7.2" fill="#2a2a2a" font-family="'DejaVu Sans Mono','Liberation Mono',monospace" textLength="46.82" lengthAdjust="spacingAndGlyphs" transform="rotate(-90 369.79 640.00)" stroke="#2a2a2a" stroke-width="0.22">Capacity(%)</text>
<text x="440.30" y="680.96" font-size="7.4" fill="#2a2a2a" font-family="'DejaVu Sans Mono','Liberation Mono',monospace" textLength="64.34" lengthAdjust="spacingAndGlyphs" stroke="#2a2a2a" stroke-width="0.22">Temperature(℃)</text>
</svg></body></html>
